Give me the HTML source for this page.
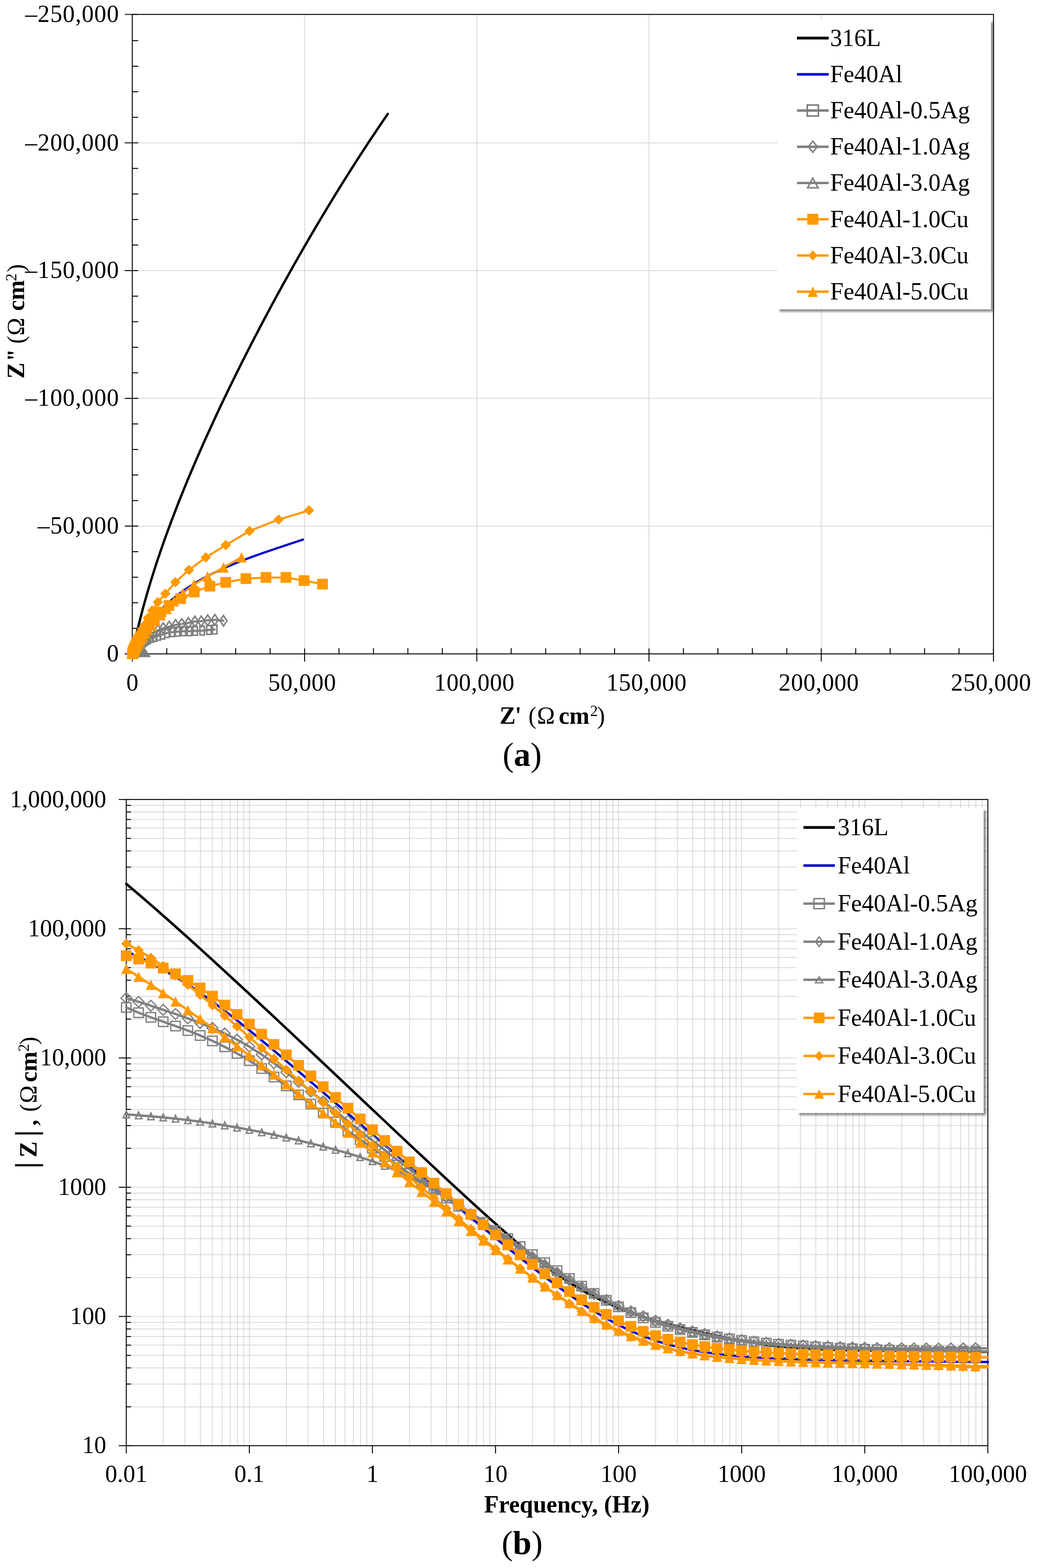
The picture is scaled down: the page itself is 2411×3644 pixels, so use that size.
<!DOCTYPE html>
<html><head><meta charset="utf-8"><style>
html,body{margin:0;padding:0;background:#fff;}
svg{display:block;}
text{font-family:'Liberation Serif','Times New Roman',serif;fill:#000;}
</style></head><body>
<svg width="2411" height="3644" viewBox="0 0 2411 3644">
<defs><filter id="sh" x="-5%" y="-5%" width="115%" height="115%"><feDropShadow dx="5.5" dy="5.5" stdDeviation="2.5" flood-color="#000" flood-opacity="0.45"/></filter></defs>
<rect width="2411" height="3644" fill="#fff"/>
<line x1="708.1" y1="33.5" x2="708.1" y2="1519.6" stroke="#d9d9d9" stroke-width="2"/>
<line x1="307.6" y1="1222.7" x2="2309.8" y2="1222.7" stroke="#d9d9d9" stroke-width="2"/>
<line x1="1108.5" y1="33.5" x2="1108.5" y2="1519.6" stroke="#d9d9d9" stroke-width="2"/>
<line x1="307.6" y1="925.8" x2="2309.8" y2="925.8" stroke="#d9d9d9" stroke-width="2"/>
<line x1="1508.9" y1="33.5" x2="1508.9" y2="1519.6" stroke="#d9d9d9" stroke-width="2"/>
<line x1="307.6" y1="628.9" x2="2309.8" y2="628.9" stroke="#d9d9d9" stroke-width="2"/>
<line x1="1909.4" y1="33.5" x2="1909.4" y2="1519.6" stroke="#d9d9d9" stroke-width="2"/>
<line x1="307.6" y1="332.0" x2="2309.8" y2="332.0" stroke="#d9d9d9" stroke-width="2"/>
<rect x="307.6" y="33.5" width="2002.2" height="1486.1" fill="none" stroke="#000" stroke-width="2.2"/>
<line x1="289.9" y1="1519.6" x2="321.3" y2="1519.6" stroke="#000" stroke-width="2.2"/>
<line x1="307.6" y1="1460.2" x2="321.3" y2="1460.2" stroke="#000" stroke-width="2.2"/>
<line x1="307.6" y1="1400.8" x2="321.3" y2="1400.8" stroke="#000" stroke-width="2.2"/>
<line x1="307.6" y1="1341.5" x2="321.3" y2="1341.5" stroke="#000" stroke-width="2.2"/>
<line x1="307.6" y1="1282.1" x2="321.3" y2="1282.1" stroke="#000" stroke-width="2.2"/>
<line x1="289.9" y1="1222.7" x2="321.3" y2="1222.7" stroke="#000" stroke-width="2.2"/>
<line x1="307.6" y1="1163.3" x2="321.3" y2="1163.3" stroke="#000" stroke-width="2.2"/>
<line x1="307.6" y1="1103.9" x2="321.3" y2="1103.9" stroke="#000" stroke-width="2.2"/>
<line x1="307.6" y1="1044.6" x2="321.3" y2="1044.6" stroke="#000" stroke-width="2.2"/>
<line x1="307.6" y1="985.2" x2="321.3" y2="985.2" stroke="#000" stroke-width="2.2"/>
<line x1="289.9" y1="925.8" x2="321.3" y2="925.8" stroke="#000" stroke-width="2.2"/>
<line x1="307.6" y1="866.4" x2="321.3" y2="866.4" stroke="#000" stroke-width="2.2"/>
<line x1="307.6" y1="807.0" x2="321.3" y2="807.0" stroke="#000" stroke-width="2.2"/>
<line x1="307.6" y1="747.7" x2="321.3" y2="747.7" stroke="#000" stroke-width="2.2"/>
<line x1="307.6" y1="688.3" x2="321.3" y2="688.3" stroke="#000" stroke-width="2.2"/>
<line x1="289.9" y1="628.9" x2="321.3" y2="628.9" stroke="#000" stroke-width="2.2"/>
<line x1="307.6" y1="569.5" x2="321.3" y2="569.5" stroke="#000" stroke-width="2.2"/>
<line x1="307.6" y1="510.1" x2="321.3" y2="510.1" stroke="#000" stroke-width="2.2"/>
<line x1="307.6" y1="450.8" x2="321.3" y2="450.8" stroke="#000" stroke-width="2.2"/>
<line x1="307.6" y1="391.4" x2="321.3" y2="391.4" stroke="#000" stroke-width="2.2"/>
<line x1="289.9" y1="332.0" x2="321.3" y2="332.0" stroke="#000" stroke-width="2.2"/>
<line x1="307.6" y1="272.6" x2="321.3" y2="272.6" stroke="#000" stroke-width="2.2"/>
<line x1="307.6" y1="213.2" x2="321.3" y2="213.2" stroke="#000" stroke-width="2.2"/>
<line x1="307.6" y1="153.9" x2="321.3" y2="153.9" stroke="#000" stroke-width="2.2"/>
<line x1="307.6" y1="94.5" x2="321.3" y2="94.5" stroke="#000" stroke-width="2.2"/>
<line x1="289.9" y1="33.5" x2="321.3" y2="33.5" stroke="#000" stroke-width="2.2"/>
<line x1="307.6" y1="1506.8" x2="307.6" y2="1537.4" stroke="#000" stroke-width="2.2"/>
<line x1="387.7" y1="1506.3" x2="387.7" y2="1519.6" stroke="#000" stroke-width="2.2"/>
<line x1="467.8" y1="1506.3" x2="467.8" y2="1519.6" stroke="#000" stroke-width="2.2"/>
<line x1="547.9" y1="1506.3" x2="547.9" y2="1519.6" stroke="#000" stroke-width="2.2"/>
<line x1="628.0" y1="1506.3" x2="628.0" y2="1519.6" stroke="#000" stroke-width="2.2"/>
<line x1="708.1" y1="1506.8" x2="708.1" y2="1537.4" stroke="#000" stroke-width="2.2"/>
<line x1="788.2" y1="1506.3" x2="788.2" y2="1519.6" stroke="#000" stroke-width="2.2"/>
<line x1="868.3" y1="1506.3" x2="868.3" y2="1519.6" stroke="#000" stroke-width="2.2"/>
<line x1="948.3" y1="1506.3" x2="948.3" y2="1519.6" stroke="#000" stroke-width="2.2"/>
<line x1="1028.4" y1="1506.3" x2="1028.4" y2="1519.6" stroke="#000" stroke-width="2.2"/>
<line x1="1108.5" y1="1506.8" x2="1108.5" y2="1537.4" stroke="#000" stroke-width="2.2"/>
<line x1="1188.6" y1="1506.3" x2="1188.6" y2="1519.6" stroke="#000" stroke-width="2.2"/>
<line x1="1268.7" y1="1506.3" x2="1268.7" y2="1519.6" stroke="#000" stroke-width="2.2"/>
<line x1="1348.8" y1="1506.3" x2="1348.8" y2="1519.6" stroke="#000" stroke-width="2.2"/>
<line x1="1428.9" y1="1506.3" x2="1428.9" y2="1519.6" stroke="#000" stroke-width="2.2"/>
<line x1="1508.9" y1="1506.8" x2="1508.9" y2="1537.4" stroke="#000" stroke-width="2.2"/>
<line x1="1589.0" y1="1506.3" x2="1589.0" y2="1519.6" stroke="#000" stroke-width="2.2"/>
<line x1="1669.1" y1="1506.3" x2="1669.1" y2="1519.6" stroke="#000" stroke-width="2.2"/>
<line x1="1749.2" y1="1506.3" x2="1749.2" y2="1519.6" stroke="#000" stroke-width="2.2"/>
<line x1="1829.3" y1="1506.3" x2="1829.3" y2="1519.6" stroke="#000" stroke-width="2.2"/>
<line x1="1909.4" y1="1506.8" x2="1909.4" y2="1537.4" stroke="#000" stroke-width="2.2"/>
<line x1="1989.5" y1="1506.3" x2="1989.5" y2="1519.6" stroke="#000" stroke-width="2.2"/>
<line x1="2069.5" y1="1506.3" x2="2069.5" y2="1519.6" stroke="#000" stroke-width="2.2"/>
<line x1="2149.6" y1="1506.3" x2="2149.6" y2="1519.6" stroke="#000" stroke-width="2.2"/>
<line x1="2229.7" y1="1506.3" x2="2229.7" y2="1519.6" stroke="#000" stroke-width="2.2"/>
<line x1="2309.8" y1="1506.8" x2="2309.8" y2="1537.4" stroke="#000" stroke-width="2.2"/>
<text x="277.3" y="1537.1" font-size="56" text-anchor="end" font-weight="normal" letter-spacing="1.1">0</text>
<text x="277.3" y="1240.2" font-size="56" text-anchor="end" font-weight="normal" letter-spacing="1.1">–50,000</text>
<text x="277.3" y="943.3" font-size="56" text-anchor="end" font-weight="normal" letter-spacing="1.1">–100,000</text>
<text x="277.3" y="646.4" font-size="56" text-anchor="end" font-weight="normal" letter-spacing="1.1">–150,000</text>
<text x="277.3" y="349.5" font-size="56" text-anchor="end" font-weight="normal" letter-spacing="1.1">–200,000</text>
<text x="277.3" y="51.0" font-size="56" text-anchor="end" font-weight="normal" letter-spacing="1.1">–250,000</text>
<text x="308.0" y="1605.0" font-size="56" text-anchor="middle" font-weight="normal" letter-spacing="0.7">0</text>
<text x="702.5" y="1605.0" font-size="56" text-anchor="middle" font-weight="normal" letter-spacing="0.7">50,000</text>
<text x="1102.9" y="1605.0" font-size="56" text-anchor="middle" font-weight="normal" letter-spacing="0.7">100,000</text>
<text x="1503.3" y="1605.0" font-size="56" text-anchor="middle" font-weight="normal" letter-spacing="0.7">150,000</text>
<text x="1903.8" y="1605.0" font-size="56" text-anchor="middle" font-weight="normal" letter-spacing="0.7">200,000</text>
<text x="2304.2" y="1605.0" font-size="56" text-anchor="middle" font-weight="normal" letter-spacing="0.7">250,000</text>
<text y="1681.5" font-size="56"><tspan x="1161.5" font-weight="bold">Z</tspan><tspan x="1197" font-weight="bold">'</tspan><tspan x="1228.5">(</tspan><tspan x="1248.5">Ω</tspan><tspan x="1299" font-weight="bold">cm</tspan><tspan x="1372" font-size="36" dy="-18">2</tspan><tspan x="1388" dy="18">)</tspan></text>
<text transform="translate(56.2,0) rotate(-90)" font-size="56"><tspan x="-880" font-weight="bold">Z</tspan><tspan x="-838.5" font-weight="bold" letter-spacing="-5">''</tspan><tspan x="-799">(</tspan><tspan x="-780">Ω</tspan><tspan x="-722.5" font-weight="bold">cm</tspan><tspan x="-653.6" font-size="36" dy="-18">2</tspan><tspan x="-632.6" dy="18">)</tspan></text>
<text x="1214" y="1779.7" font-size="78" text-anchor="middle">(<tspan font-weight="bold">a</tspan>)</text>
<line x1="379.7" y1="1858.0" x2="379.7" y2="3359.8" stroke="#d9d9d9" stroke-width="2"/>
<line x1="430.1" y1="1858.0" x2="430.1" y2="3359.8" stroke="#d9d9d9" stroke-width="2"/>
<line x1="465.9" y1="1858.0" x2="465.9" y2="3359.8" stroke="#d9d9d9" stroke-width="2"/>
<line x1="493.6" y1="1858.0" x2="493.6" y2="3359.8" stroke="#d9d9d9" stroke-width="2"/>
<line x1="516.3" y1="1858.0" x2="516.3" y2="3359.8" stroke="#d9d9d9" stroke-width="2"/>
<line x1="535.4" y1="1858.0" x2="535.4" y2="3359.8" stroke="#d9d9d9" stroke-width="2"/>
<line x1="552.0" y1="1858.0" x2="552.0" y2="3359.8" stroke="#d9d9d9" stroke-width="2"/>
<line x1="566.7" y1="1858.0" x2="566.7" y2="3359.8" stroke="#d9d9d9" stroke-width="2"/>
<line x1="579.8" y1="1858.0" x2="579.8" y2="3359.8" stroke="#d9d9d9" stroke-width="2"/>
<line x1="665.9" y1="1858.0" x2="665.9" y2="3359.8" stroke="#d9d9d9" stroke-width="2"/>
<line x1="716.3" y1="1858.0" x2="716.3" y2="3359.8" stroke="#d9d9d9" stroke-width="2"/>
<line x1="752.0" y1="1858.0" x2="752.0" y2="3359.8" stroke="#d9d9d9" stroke-width="2"/>
<line x1="779.8" y1="1858.0" x2="779.8" y2="3359.8" stroke="#d9d9d9" stroke-width="2"/>
<line x1="802.4" y1="1858.0" x2="802.4" y2="3359.8" stroke="#d9d9d9" stroke-width="2"/>
<line x1="821.6" y1="1858.0" x2="821.6" y2="3359.8" stroke="#d9d9d9" stroke-width="2"/>
<line x1="838.2" y1="1858.0" x2="838.2" y2="3359.8" stroke="#d9d9d9" stroke-width="2"/>
<line x1="852.8" y1="1858.0" x2="852.8" y2="3359.8" stroke="#d9d9d9" stroke-width="2"/>
<line x1="865.9" y1="1858.0" x2="865.9" y2="3359.8" stroke="#d9d9d9" stroke-width="2"/>
<line x1="952.1" y1="1858.0" x2="952.1" y2="3359.8" stroke="#d9d9d9" stroke-width="2"/>
<line x1="1002.4" y1="1858.0" x2="1002.4" y2="3359.8" stroke="#d9d9d9" stroke-width="2"/>
<line x1="1038.2" y1="1858.0" x2="1038.2" y2="3359.8" stroke="#d9d9d9" stroke-width="2"/>
<line x1="1065.9" y1="1858.0" x2="1065.9" y2="3359.8" stroke="#d9d9d9" stroke-width="2"/>
<line x1="1088.6" y1="1858.0" x2="1088.6" y2="3359.8" stroke="#d9d9d9" stroke-width="2"/>
<line x1="1107.7" y1="1858.0" x2="1107.7" y2="3359.8" stroke="#d9d9d9" stroke-width="2"/>
<line x1="1124.3" y1="1858.0" x2="1124.3" y2="3359.8" stroke="#d9d9d9" stroke-width="2"/>
<line x1="1139.0" y1="1858.0" x2="1139.0" y2="3359.8" stroke="#d9d9d9" stroke-width="2"/>
<line x1="1152.1" y1="1858.0" x2="1152.1" y2="3359.8" stroke="#d9d9d9" stroke-width="2"/>
<line x1="1238.2" y1="1858.0" x2="1238.2" y2="3359.8" stroke="#d9d9d9" stroke-width="2"/>
<line x1="1288.6" y1="1858.0" x2="1288.6" y2="3359.8" stroke="#d9d9d9" stroke-width="2"/>
<line x1="1324.4" y1="1858.0" x2="1324.4" y2="3359.8" stroke="#d9d9d9" stroke-width="2"/>
<line x1="1352.1" y1="1858.0" x2="1352.1" y2="3359.8" stroke="#d9d9d9" stroke-width="2"/>
<line x1="1374.7" y1="1858.0" x2="1374.7" y2="3359.8" stroke="#d9d9d9" stroke-width="2"/>
<line x1="1393.9" y1="1858.0" x2="1393.9" y2="3359.8" stroke="#d9d9d9" stroke-width="2"/>
<line x1="1410.5" y1="1858.0" x2="1410.5" y2="3359.8" stroke="#d9d9d9" stroke-width="2"/>
<line x1="1425.1" y1="1858.0" x2="1425.1" y2="3359.8" stroke="#d9d9d9" stroke-width="2"/>
<line x1="1438.2" y1="1858.0" x2="1438.2" y2="3359.8" stroke="#d9d9d9" stroke-width="2"/>
<line x1="1524.4" y1="1858.0" x2="1524.4" y2="3359.8" stroke="#d9d9d9" stroke-width="2"/>
<line x1="1574.8" y1="1858.0" x2="1574.8" y2="3359.8" stroke="#d9d9d9" stroke-width="2"/>
<line x1="1610.5" y1="1858.0" x2="1610.5" y2="3359.8" stroke="#d9d9d9" stroke-width="2"/>
<line x1="1638.2" y1="1858.0" x2="1638.2" y2="3359.8" stroke="#d9d9d9" stroke-width="2"/>
<line x1="1660.9" y1="1858.0" x2="1660.9" y2="3359.8" stroke="#d9d9d9" stroke-width="2"/>
<line x1="1680.1" y1="1858.0" x2="1680.1" y2="3359.8" stroke="#d9d9d9" stroke-width="2"/>
<line x1="1696.7" y1="1858.0" x2="1696.7" y2="3359.8" stroke="#d9d9d9" stroke-width="2"/>
<line x1="1711.3" y1="1858.0" x2="1711.3" y2="3359.8" stroke="#d9d9d9" stroke-width="2"/>
<line x1="1724.4" y1="1858.0" x2="1724.4" y2="3359.8" stroke="#d9d9d9" stroke-width="2"/>
<line x1="1810.5" y1="1858.0" x2="1810.5" y2="3359.8" stroke="#d9d9d9" stroke-width="2"/>
<line x1="1860.9" y1="1858.0" x2="1860.9" y2="3359.8" stroke="#d9d9d9" stroke-width="2"/>
<line x1="1896.7" y1="1858.0" x2="1896.7" y2="3359.8" stroke="#d9d9d9" stroke-width="2"/>
<line x1="1924.4" y1="1858.0" x2="1924.4" y2="3359.8" stroke="#d9d9d9" stroke-width="2"/>
<line x1="1947.1" y1="1858.0" x2="1947.1" y2="3359.8" stroke="#d9d9d9" stroke-width="2"/>
<line x1="1966.2" y1="1858.0" x2="1966.2" y2="3359.8" stroke="#d9d9d9" stroke-width="2"/>
<line x1="1982.8" y1="1858.0" x2="1982.8" y2="3359.8" stroke="#d9d9d9" stroke-width="2"/>
<line x1="1997.4" y1="1858.0" x2="1997.4" y2="3359.8" stroke="#d9d9d9" stroke-width="2"/>
<line x1="2010.5" y1="1858.0" x2="2010.5" y2="3359.8" stroke="#d9d9d9" stroke-width="2"/>
<line x1="2096.7" y1="1858.0" x2="2096.7" y2="3359.8" stroke="#d9d9d9" stroke-width="2"/>
<line x1="2147.1" y1="1858.0" x2="2147.1" y2="3359.8" stroke="#d9d9d9" stroke-width="2"/>
<line x1="2182.8" y1="1858.0" x2="2182.8" y2="3359.8" stroke="#d9d9d9" stroke-width="2"/>
<line x1="2210.6" y1="1858.0" x2="2210.6" y2="3359.8" stroke="#d9d9d9" stroke-width="2"/>
<line x1="2233.2" y1="1858.0" x2="2233.2" y2="3359.8" stroke="#d9d9d9" stroke-width="2"/>
<line x1="2252.4" y1="1858.0" x2="2252.4" y2="3359.8" stroke="#d9d9d9" stroke-width="2"/>
<line x1="2269.0" y1="1858.0" x2="2269.0" y2="3359.8" stroke="#d9d9d9" stroke-width="2"/>
<line x1="2283.6" y1="1858.0" x2="2283.6" y2="3359.8" stroke="#d9d9d9" stroke-width="2"/>
<line x1="293.6" y1="3269.4" x2="2296.7" y2="3269.4" stroke="#d9d9d9" stroke-width="2"/>
<line x1="293.6" y1="3216.5" x2="2296.7" y2="3216.5" stroke="#d9d9d9" stroke-width="2"/>
<line x1="293.6" y1="3179.0" x2="2296.7" y2="3179.0" stroke="#d9d9d9" stroke-width="2"/>
<line x1="293.6" y1="3149.9" x2="2296.7" y2="3149.9" stroke="#d9d9d9" stroke-width="2"/>
<line x1="293.6" y1="3126.1" x2="2296.7" y2="3126.1" stroke="#d9d9d9" stroke-width="2"/>
<line x1="293.6" y1="3106.0" x2="2296.7" y2="3106.0" stroke="#d9d9d9" stroke-width="2"/>
<line x1="293.6" y1="3088.5" x2="2296.7" y2="3088.5" stroke="#d9d9d9" stroke-width="2"/>
<line x1="293.6" y1="3073.2" x2="2296.7" y2="3073.2" stroke="#d9d9d9" stroke-width="2"/>
<line x1="293.6" y1="3059.4" x2="2296.7" y2="3059.4" stroke="#d9d9d9" stroke-width="2"/>
<line x1="293.6" y1="2969.0" x2="2296.7" y2="2969.0" stroke="#d9d9d9" stroke-width="2"/>
<line x1="293.6" y1="2916.1" x2="2296.7" y2="2916.1" stroke="#d9d9d9" stroke-width="2"/>
<line x1="293.6" y1="2878.6" x2="2296.7" y2="2878.6" stroke="#d9d9d9" stroke-width="2"/>
<line x1="293.6" y1="2849.5" x2="2296.7" y2="2849.5" stroke="#d9d9d9" stroke-width="2"/>
<line x1="293.6" y1="2825.7" x2="2296.7" y2="2825.7" stroke="#d9d9d9" stroke-width="2"/>
<line x1="293.6" y1="2805.6" x2="2296.7" y2="2805.6" stroke="#d9d9d9" stroke-width="2"/>
<line x1="293.6" y1="2788.2" x2="2296.7" y2="2788.2" stroke="#d9d9d9" stroke-width="2"/>
<line x1="293.6" y1="2772.8" x2="2296.7" y2="2772.8" stroke="#d9d9d9" stroke-width="2"/>
<line x1="293.6" y1="2759.1" x2="2296.7" y2="2759.1" stroke="#d9d9d9" stroke-width="2"/>
<line x1="293.6" y1="2668.7" x2="2296.7" y2="2668.7" stroke="#d9d9d9" stroke-width="2"/>
<line x1="293.6" y1="2615.8" x2="2296.7" y2="2615.8" stroke="#d9d9d9" stroke-width="2"/>
<line x1="293.6" y1="2578.2" x2="2296.7" y2="2578.2" stroke="#d9d9d9" stroke-width="2"/>
<line x1="293.6" y1="2549.1" x2="2296.7" y2="2549.1" stroke="#d9d9d9" stroke-width="2"/>
<line x1="293.6" y1="2525.4" x2="2296.7" y2="2525.4" stroke="#d9d9d9" stroke-width="2"/>
<line x1="293.6" y1="2505.2" x2="2296.7" y2="2505.2" stroke="#d9d9d9" stroke-width="2"/>
<line x1="293.6" y1="2487.8" x2="2296.7" y2="2487.8" stroke="#d9d9d9" stroke-width="2"/>
<line x1="293.6" y1="2472.5" x2="2296.7" y2="2472.5" stroke="#d9d9d9" stroke-width="2"/>
<line x1="293.6" y1="2458.7" x2="2296.7" y2="2458.7" stroke="#d9d9d9" stroke-width="2"/>
<line x1="293.6" y1="2368.3" x2="2296.7" y2="2368.3" stroke="#d9d9d9" stroke-width="2"/>
<line x1="293.6" y1="2315.4" x2="2296.7" y2="2315.4" stroke="#d9d9d9" stroke-width="2"/>
<line x1="293.6" y1="2277.9" x2="2296.7" y2="2277.9" stroke="#d9d9d9" stroke-width="2"/>
<line x1="293.6" y1="2248.8" x2="2296.7" y2="2248.8" stroke="#d9d9d9" stroke-width="2"/>
<line x1="293.6" y1="2225.0" x2="2296.7" y2="2225.0" stroke="#d9d9d9" stroke-width="2"/>
<line x1="293.6" y1="2204.9" x2="2296.7" y2="2204.9" stroke="#d9d9d9" stroke-width="2"/>
<line x1="293.6" y1="2187.5" x2="2296.7" y2="2187.5" stroke="#d9d9d9" stroke-width="2"/>
<line x1="293.6" y1="2172.1" x2="2296.7" y2="2172.1" stroke="#d9d9d9" stroke-width="2"/>
<line x1="293.6" y1="2158.4" x2="2296.7" y2="2158.4" stroke="#d9d9d9" stroke-width="2"/>
<line x1="293.6" y1="2067.9" x2="2296.7" y2="2067.9" stroke="#d9d9d9" stroke-width="2"/>
<line x1="293.6" y1="2015.1" x2="2296.7" y2="2015.1" stroke="#d9d9d9" stroke-width="2"/>
<line x1="293.6" y1="1977.5" x2="2296.7" y2="1977.5" stroke="#d9d9d9" stroke-width="2"/>
<line x1="293.6" y1="1948.4" x2="2296.7" y2="1948.4" stroke="#d9d9d9" stroke-width="2"/>
<line x1="293.6" y1="1924.6" x2="2296.7" y2="1924.6" stroke="#d9d9d9" stroke-width="2"/>
<line x1="293.6" y1="1904.5" x2="2296.7" y2="1904.5" stroke="#d9d9d9" stroke-width="2"/>
<line x1="293.6" y1="1887.1" x2="2296.7" y2="1887.1" stroke="#d9d9d9" stroke-width="2"/>
<line x1="293.6" y1="1871.7" x2="2296.7" y2="1871.7" stroke="#d9d9d9" stroke-width="2"/>
<rect x="293.6" y="1858.0" width="2003.1" height="1501.8" fill="none" stroke="#000" stroke-width="2.2"/>
<line x1="276.1" y1="3359.8" x2="304.5" y2="3359.8" stroke="#000" stroke-width="2.2"/>
<line x1="293.6" y1="3269.4" x2="304.5" y2="3269.4" stroke="#000" stroke-width="2.2"/>
<line x1="293.6" y1="3216.5" x2="304.5" y2="3216.5" stroke="#000" stroke-width="2.2"/>
<line x1="293.6" y1="3179.0" x2="304.5" y2="3179.0" stroke="#000" stroke-width="2.2"/>
<line x1="293.6" y1="3149.9" x2="304.5" y2="3149.9" stroke="#000" stroke-width="2.2"/>
<line x1="293.6" y1="3126.1" x2="304.5" y2="3126.1" stroke="#000" stroke-width="2.2"/>
<line x1="293.6" y1="3106.0" x2="304.5" y2="3106.0" stroke="#000" stroke-width="2.2"/>
<line x1="293.6" y1="3088.5" x2="304.5" y2="3088.5" stroke="#000" stroke-width="2.2"/>
<line x1="293.6" y1="3073.2" x2="304.5" y2="3073.2" stroke="#000" stroke-width="2.2"/>
<line x1="276.1" y1="3059.4" x2="304.5" y2="3059.4" stroke="#000" stroke-width="2.2"/>
<line x1="293.6" y1="2969.0" x2="304.5" y2="2969.0" stroke="#000" stroke-width="2.2"/>
<line x1="293.6" y1="2916.1" x2="304.5" y2="2916.1" stroke="#000" stroke-width="2.2"/>
<line x1="293.6" y1="2878.6" x2="304.5" y2="2878.6" stroke="#000" stroke-width="2.2"/>
<line x1="293.6" y1="2849.5" x2="304.5" y2="2849.5" stroke="#000" stroke-width="2.2"/>
<line x1="293.6" y1="2825.7" x2="304.5" y2="2825.7" stroke="#000" stroke-width="2.2"/>
<line x1="293.6" y1="2805.6" x2="304.5" y2="2805.6" stroke="#000" stroke-width="2.2"/>
<line x1="293.6" y1="2788.2" x2="304.5" y2="2788.2" stroke="#000" stroke-width="2.2"/>
<line x1="293.6" y1="2772.8" x2="304.5" y2="2772.8" stroke="#000" stroke-width="2.2"/>
<line x1="276.1" y1="2759.1" x2="304.5" y2="2759.1" stroke="#000" stroke-width="2.2"/>
<line x1="293.6" y1="2668.7" x2="304.5" y2="2668.7" stroke="#000" stroke-width="2.2"/>
<line x1="293.6" y1="2615.8" x2="304.5" y2="2615.8" stroke="#000" stroke-width="2.2"/>
<line x1="293.6" y1="2578.2" x2="304.5" y2="2578.2" stroke="#000" stroke-width="2.2"/>
<line x1="293.6" y1="2549.1" x2="304.5" y2="2549.1" stroke="#000" stroke-width="2.2"/>
<line x1="293.6" y1="2525.4" x2="304.5" y2="2525.4" stroke="#000" stroke-width="2.2"/>
<line x1="293.6" y1="2505.2" x2="304.5" y2="2505.2" stroke="#000" stroke-width="2.2"/>
<line x1="293.6" y1="2487.8" x2="304.5" y2="2487.8" stroke="#000" stroke-width="2.2"/>
<line x1="293.6" y1="2472.5" x2="304.5" y2="2472.5" stroke="#000" stroke-width="2.2"/>
<line x1="276.1" y1="2458.7" x2="304.5" y2="2458.7" stroke="#000" stroke-width="2.2"/>
<line x1="293.6" y1="2368.3" x2="304.5" y2="2368.3" stroke="#000" stroke-width="2.2"/>
<line x1="293.6" y1="2315.4" x2="304.5" y2="2315.4" stroke="#000" stroke-width="2.2"/>
<line x1="293.6" y1="2277.9" x2="304.5" y2="2277.9" stroke="#000" stroke-width="2.2"/>
<line x1="293.6" y1="2248.8" x2="304.5" y2="2248.8" stroke="#000" stroke-width="2.2"/>
<line x1="293.6" y1="2225.0" x2="304.5" y2="2225.0" stroke="#000" stroke-width="2.2"/>
<line x1="293.6" y1="2204.9" x2="304.5" y2="2204.9" stroke="#000" stroke-width="2.2"/>
<line x1="293.6" y1="2187.5" x2="304.5" y2="2187.5" stroke="#000" stroke-width="2.2"/>
<line x1="293.6" y1="2172.1" x2="304.5" y2="2172.1" stroke="#000" stroke-width="2.2"/>
<line x1="276.1" y1="2158.4" x2="304.5" y2="2158.4" stroke="#000" stroke-width="2.2"/>
<line x1="293.6" y1="2067.9" x2="304.5" y2="2067.9" stroke="#000" stroke-width="2.2"/>
<line x1="293.6" y1="2015.1" x2="304.5" y2="2015.1" stroke="#000" stroke-width="2.2"/>
<line x1="293.6" y1="1977.5" x2="304.5" y2="1977.5" stroke="#000" stroke-width="2.2"/>
<line x1="293.6" y1="1948.4" x2="304.5" y2="1948.4" stroke="#000" stroke-width="2.2"/>
<line x1="293.6" y1="1924.6" x2="304.5" y2="1924.6" stroke="#000" stroke-width="2.2"/>
<line x1="293.6" y1="1904.5" x2="304.5" y2="1904.5" stroke="#000" stroke-width="2.2"/>
<line x1="293.6" y1="1887.1" x2="304.5" y2="1887.1" stroke="#000" stroke-width="2.2"/>
<line x1="293.6" y1="1871.7" x2="304.5" y2="1871.7" stroke="#000" stroke-width="2.2"/>
<line x1="276.1" y1="1858.0" x2="304.5" y2="1858.0" stroke="#000" stroke-width="2.2"/>
<line x1="293.6" y1="3359.8" x2="293.6" y2="3377.7" stroke="#000" stroke-width="2.2"/>
<line x1="579.8" y1="3359.8" x2="579.8" y2="3377.7" stroke="#000" stroke-width="2.2"/>
<line x1="865.9" y1="3359.8" x2="865.9" y2="3377.7" stroke="#000" stroke-width="2.2"/>
<line x1="1152.1" y1="3359.8" x2="1152.1" y2="3377.7" stroke="#000" stroke-width="2.2"/>
<line x1="1438.2" y1="3359.8" x2="1438.2" y2="3377.7" stroke="#000" stroke-width="2.2"/>
<line x1="1724.4" y1="3359.8" x2="1724.4" y2="3377.7" stroke="#000" stroke-width="2.2"/>
<line x1="2010.5" y1="3359.8" x2="2010.5" y2="3377.7" stroke="#000" stroke-width="2.2"/>
<line x1="2296.7" y1="3359.8" x2="2296.7" y2="3377.7" stroke="#000" stroke-width="2.2"/>
<text x="247.0" y="3377.3" font-size="56" text-anchor="end" font-weight="normal">10</text>
<text x="247.0" y="3076.9" font-size="56" text-anchor="end" font-weight="normal">100</text>
<text x="247.0" y="2776.6" font-size="56" text-anchor="end" font-weight="normal">1000</text>
<text x="247.0" y="2476.2" font-size="56" text-anchor="end" font-weight="normal">10,000</text>
<text x="247.0" y="2175.9" font-size="56" text-anchor="end" font-weight="normal">100,000</text>
<text x="247.0" y="1875.5" font-size="56" text-anchor="end" font-weight="normal">1,000,000</text>
<text x="293.6" y="3443.5" font-size="56" text-anchor="middle" font-weight="normal">0.01</text>
<text x="579.8" y="3443.5" font-size="56" text-anchor="middle" font-weight="normal">0.1</text>
<text x="865.9" y="3443.5" font-size="56" text-anchor="middle" font-weight="normal">1</text>
<text x="1152.1" y="3443.5" font-size="56" text-anchor="middle" font-weight="normal">10</text>
<text x="1438.2" y="3443.5" font-size="56" text-anchor="middle" font-weight="normal">100</text>
<text x="1724.4" y="3443.5" font-size="56" text-anchor="middle" font-weight="normal">1000</text>
<text x="2010.5" y="3443.5" font-size="56" text-anchor="middle" font-weight="normal">10,000</text>
<text x="2296.7" y="3443.5" font-size="56" text-anchor="middle" font-weight="normal">100,000</text>
<text x="1125.4" y="3515" font-size="56" font-weight="bold">Frequency, (Hz)</text>
<text transform="translate(84.7,0) rotate(-90)" font-size="56"><tspan x="-2716" font-size="72" font-weight="bold">|</tspan><tspan x="-2690" font-weight="bold">Z</tspan><tspan x="-2642" font-size="72" font-weight="bold">|</tspan><tspan x="-2616" font-weight="bold">,</tspan><tspan x="-2584">(</tspan><tspan x="-2564">Ω</tspan><tspan x="-2515" font-weight="bold">cm</tspan><tspan x="-2444" font-size="36" dy="-18">2</tspan><tspan x="-2428" dy="18">)</tspan></text>
<text x="1214" y="3611.5" font-size="78" text-anchor="middle">(<tspan font-weight="bold">b</tspan>)</text>
<polyline points="901.5,264.7 898.7,268.9 895.8,273.1 892.9,277.3 890.1,281.5 887.2,285.7 884.4,289.9 881.5,294.1 878.7,298.3 875.9,302.5 873.1,306.7 870.3,310.9 867.5,315.1 864.7,319.3 861.9,323.4 859.1,327.6 856.3,331.8 853.6,336.0 850.8,340.2 848.1,344.4 845.3,348.6 842.6,352.8 839.9,357.0 837.1,361.2 834.4,365.4 831.7,369.6 829.0,373.8 826.3,378.0 823.6,382.2 821.0,386.4 818.3,390.6 815.6,394.8 813.0,399.0 810.3,403.2 807.7,407.4 805.0,411.6 802.4,415.8 799.7,420.0 797.1,424.2 794.5,428.4 791.9,432.6 789.3,436.7 786.7,440.9 784.1,445.1 781.5,449.3 778.9,453.5 776.4,457.7 773.8,461.9 771.2,466.1 768.7,470.3 766.1,474.5 763.6,478.7 761.0,482.9 758.5,487.1 756.0,491.3 753.4,495.5 750.9,499.7 748.4,503.9 745.9,508.1 743.4,512.3 740.9,516.5 738.4,520.7 735.9,524.9 733.4,529.1 731.0,533.3 728.5,537.5 726.0,541.7 723.6,545.9 721.1,550.0 718.7,554.2 716.2,558.4 713.8,562.6 711.4,566.8 708.9,571.0 706.5,575.2 704.1,579.4 701.7,583.6 699.3,587.8 696.9,592.0 694.5,596.2 692.1,600.4 689.7,604.6 687.3,608.8 684.9,613.0 682.6,617.2 680.2,621.4 677.8,625.6 675.5,629.8 673.1,634.0 670.8,638.2 668.5,642.4 666.1,646.6 663.8,650.8 661.5,655.0 659.1,659.2 656.8,663.4 654.5,667.5 652.2,671.7 649.9,675.9 647.6,680.1 645.3,684.3 643.0,688.5 640.7,692.7 638.5,696.9 636.2,701.1 633.9,705.3 631.6,709.5 629.4,713.7 627.1,717.9 624.9,722.1 622.6,726.3 620.4,730.5 618.2,734.7 615.9,738.9 613.7,743.1 611.5,747.3 609.3,751.5 607.1,755.7 604.8,759.9 602.6,764.1 600.4,768.3 598.3,772.5 596.1,776.7 593.9,780.8 591.7,785.0 589.5,789.2 587.4,793.4 585.2,797.6 583.0,801.8 580.9,806.0 578.7,810.2 576.6,814.4 574.4,818.6 572.3,822.8 570.2,827.0 568.1,831.2 565.9,835.4 563.8,839.6 561.7,843.8 559.6,848.0 557.5,852.2 555.4,856.4 553.3,860.6 551.2,864.8 549.1,869.0 547.1,873.2 545.0,877.4 542.9,881.6 540.9,885.8 538.8,890.0 536.8,894.1 534.7,898.3 532.7,902.5 530.6,906.7 528.6,910.9 526.6,915.1 524.6,919.3 522.5,923.5 520.5,927.7 518.5,931.9 516.5,936.1 514.5,940.3 512.5,944.5 510.6,948.7 508.6,952.9 506.6,957.1 504.6,961.3 502.7,965.5 500.7,969.7 498.8,973.9 496.8,978.1 494.9,982.3 493.0,986.5 491.0,990.7 489.1,994.9 487.2,999.1 485.3,1003.3 483.4,1007.4 481.5,1011.6 479.6,1015.8 477.7,1020.0 475.8,1024.2 473.9,1028.4 472.0,1032.6 470.2,1036.8 468.3,1041.0 466.5,1045.2 464.6,1049.4 462.8,1053.6 460.9,1057.8 459.1,1062.0 457.3,1066.2 455.5,1070.4 453.7,1074.6 451.9,1078.8 450.1,1083.0 448.3,1087.2 446.5,1091.4 444.7,1095.6 442.9,1099.8 441.2,1104.0 439.4,1108.2 437.7,1112.4 435.9,1116.6 434.2,1120.7 432.4,1124.9 430.7,1129.1 429.0,1133.3 427.3,1137.5 425.6,1141.7 423.9,1145.9 422.2,1150.1 420.5,1154.3 418.8,1158.5 417.2,1162.7 415.5,1166.9 413.8,1171.1 412.2,1175.3 410.6,1179.5 408.9,1183.7 407.3,1187.9 405.7,1192.1 404.1,1196.3 402.5,1200.5 400.9,1204.7 399.3,1208.9 397.7,1213.1 396.1,1217.3 394.6,1221.5 393.0,1225.7 391.5,1229.9 389.9,1234.1 388.4,1238.2 386.9,1242.4 385.3,1246.6 383.8,1250.8 382.3,1255.0 380.8,1259.2 379.4,1263.4 377.9,1267.6 376.4,1271.8 375.0,1276.0 373.5,1280.2 372.1,1284.4 370.7,1288.6 369.2,1292.8 367.8,1297.0 366.4,1301.2 365.0,1305.4 363.6,1309.6 362.3,1313.8 360.9,1318.0 359.5,1322.2 358.2,1326.4 356.9,1330.6 355.5,1334.8 354.2,1339.0 352.9,1343.2 351.6,1347.4 350.3,1351.5 349.0,1355.7 347.8,1359.9 346.5,1364.1 345.3,1368.3 344.0,1372.5 342.8,1376.7 341.6,1380.9 340.4,1385.1 339.2,1389.3 338.0,1393.5 336.8,1397.7 335.6,1401.9 334.5,1406.1 333.3,1410.3 332.2,1414.5 331.1,1418.7 330.0,1422.9 328.9,1427.1 327.8,1431.3 326.7,1435.5 325.6,1439.7 324.6,1443.9 323.5,1448.1 322.5,1452.3 321.5,1456.5 320.5,1460.7 319.5,1464.8 318.5,1469.0 317.5,1473.2 316.6,1477.4 315.6,1481.6 314.7,1485.8 313.8,1490.0 312.9,1494.2 312.0,1498.4 311.1,1502.6 310.2,1506.8 309.3,1511.0 308.5,1515.2 307.7,1519.4" fill="none" stroke="#000" stroke-width="5.5" stroke-linejoin="round" stroke-linecap="round"/>
<polyline points="704.3,1254.0 699.2,1255.7 694.1,1257.4 689.0,1259.1 684.0,1260.7 679.0,1262.4 674.0,1264.0 669.0,1265.7 664.1,1267.3 659.1,1269.0 654.2,1270.6 649.4,1272.2 644.5,1273.8 639.7,1275.5 634.8,1277.1 630.0,1278.7 625.3,1280.4 620.5,1282.0 615.8,1283.6 611.1,1285.3 606.4,1286.9 601.7,1288.6 597.0,1290.2 592.4,1291.9 587.8,1293.5 583.2,1295.2 578.7,1296.9 574.2,1298.6 569.7,1300.3 565.2,1302.0 560.8,1303.7 556.4,1305.5 552.0,1307.2 547.7,1309.0 543.4,1310.7 539.1,1312.5 534.8,1314.3 530.6,1316.1 526.5,1317.9 522.4,1319.7 518.3,1321.5 514.2,1323.4 510.2,1325.2 506.3,1327.1 502.3,1328.9 498.5,1330.8 494.6,1332.7 490.9,1334.6 487.1,1336.5 483.4,1338.4 479.8,1340.4 476.2,1342.3 472.7,1344.2 469.2,1346.1 465.7,1348.1 462.3,1350.0 459.0,1352.0 455.7,1353.9 452.5,1355.9 449.3,1357.8 446.2,1359.8 443.1,1361.7 440.1,1363.7 437.1,1365.6 434.2,1367.6 431.4,1369.5 428.5,1371.5 425.8,1373.4 423.1,1375.3 420.4,1377.3 417.8,1379.2 415.3,1381.1 412.8,1383.0 410.3,1384.9 408.0,1386.8 405.6,1388.6 403.3,1390.5 401.1,1392.3 398.9,1394.2 396.7,1396.0 394.6,1397.8 392.6,1399.6 390.6,1401.4 388.6,1403.1 386.7,1404.9 384.8,1406.6 383.0,1408.4 381.2,1410.1 379.4,1411.8 377.7,1413.4 376.0,1415.1 374.4,1416.7 372.8,1418.4 371.3,1420.0 369.8,1421.6 368.3,1423.1 366.9,1424.7 365.4,1426.2 364.1,1427.8 362.7,1429.3 361.4,1430.7 360.2,1432.2 358.9,1433.6 357.7,1435.1 356.5,1436.5 355.4,1437.9 354.3,1439.2 353.2,1440.6 352.1,1441.9 351.1,1443.2 350.0,1444.5 349.1,1445.8 348.1,1447.1 347.2,1448.3 346.2,1449.6 345.3,1450.8 344.5,1452.0 343.6,1453.1 342.8,1454.3 342.0,1455.4 341.2,1456.5 340.4,1457.6 339.7,1458.7 339.0,1459.8 338.3,1460.9 337.6,1461.9 336.9,1462.9 336.2,1463.9 335.6,1464.9 335.0,1465.9 334.4,1466.8 333.8,1467.8 333.2,1468.7 332.6,1469.6 332.1,1470.5 331.5,1471.4 331.0,1472.2 330.5,1473.1 330.0,1473.9 329.5,1474.8 329.0,1475.6 328.6,1476.4 328.1,1477.1 327.7,1477.9 327.3,1478.7 326.8,1479.4 326.4,1480.1 326.0,1480.9 325.6,1481.6 325.3,1482.2 324.9,1482.9 324.5,1483.6 324.2,1484.3 323.8,1484.9 323.5,1485.5 323.2,1486.2 322.8,1486.8 322.5,1487.4 322.2,1488.0 321.9,1488.5 321.6,1489.1 321.3,1489.7 321.0,1490.2 320.8,1490.8 320.5,1491.3 320.2,1491.8 320.0,1492.3 319.7,1492.8 319.5,1493.3 319.3,1493.8 319.0,1494.3 318.8,1494.7 318.6,1495.2 318.4,1495.7 318.2,1496.1 317.9,1496.5 317.7,1497.0 317.5,1497.4 317.3,1497.8 317.2,1498.2 317.0,1498.6 316.8,1499.0 316.6,1499.4 316.4,1499.7 316.3,1500.1 316.1,1500.5 315.9,1500.8 315.8,1501.2 315.6,1501.5 315.5,1501.8 315.3,1502.2 315.2,1502.5 315.0,1502.8 314.9,1503.1 314.8,1503.4 314.6,1503.7 314.5,1504.0 314.4,1504.3 314.2,1504.6 314.1,1504.9 314.0,1505.2 313.9,1505.4 313.8,1505.7 313.7,1506.0 313.6,1506.2 313.4,1506.5 313.3,1506.7 313.2,1506.9 313.1,1507.2 313.0,1507.4 312.9,1507.6 312.8,1507.9 312.7,1508.1 312.7,1508.3 312.6,1508.5 312.5,1508.7 312.4,1508.9 312.3,1509.1 312.2,1509.3 312.1,1509.5 312.1,1509.7 312.0,1509.9 311.9,1510.1 311.8,1510.2 311.8,1510.4 311.7,1510.6 311.6,1510.7 311.6,1510.9 311.5,1511.1 311.4,1511.2 311.4,1511.4 311.3,1511.5 311.2,1511.7 311.2,1511.8 311.1,1512.0 311.0,1512.1 311.0,1512.3 310.9,1512.4 310.9,1512.5 310.8,1512.7 310.8,1512.8 310.7,1512.9 310.7,1513.0 310.6,1513.2 310.6,1513.3 310.5,1513.4 310.5,1513.5 310.4,1513.6 310.4,1513.7 310.3,1513.9 310.3,1514.0 310.3,1514.1 310.2,1514.2 310.2,1514.3 310.1,1514.4 310.1,1514.5 310.1,1514.6 310.0,1514.7 310.0,1514.8 309.9,1514.8 309.9,1514.9 309.9,1515.0 309.8,1515.1 309.8,1515.2 309.8,1515.3 309.7,1515.3 309.7,1515.4 309.7,1515.5 309.6,1515.6 309.6,1515.7 309.6,1515.7 309.6,1515.8 309.5,1515.9 309.5,1515.9 309.5,1516.0 309.4,1516.1 309.4,1516.1 309.4,1516.2 309.4,1516.3 309.3,1516.3 309.3,1516.4 309.3,1516.5 309.3,1516.5 309.2,1516.6 309.2,1516.6 309.2,1516.7 309.2,1516.7 309.2,1516.8 309.1,1516.8 309.1,1516.9 309.1,1516.9 309.1,1517.0 309.1,1517.0 309.0,1517.1 309.0,1517.1 309.0,1517.2 309.0,1517.2 309.0,1517.3 308.9,1517.3 308.9,1517.4 308.9,1517.4 308.9,1517.4 308.9,1517.5 308.9,1517.5 308.8,1517.6 308.8,1517.6 308.8,1517.6 308.8,1517.7 308.8,1517.7 308.8,1517.7 308.8,1517.8 308.7,1517.8 308.7,1517.8 308.7,1517.9 308.7,1517.9 308.7,1517.9 308.7,1518.0 308.7,1518.0 308.7,1518.0 308.6,1518.1 308.6,1518.1 308.6,1518.1 308.6,1518.1 308.6,1518.2 308.6,1518.2 308.6,1518.2 308.6,1518.2 308.6,1518.3 308.5,1518.3 308.5,1518.3 308.5,1518.3 308.5,1518.4 308.5,1518.4 308.5,1518.4 308.5,1518.4 308.5,1518.5 308.5,1518.5 308.5,1518.5 308.5,1518.5 308.4,1518.5 308.4,1518.6 308.4,1518.6 308.4,1518.6 308.4,1518.6 308.4,1518.6 308.4,1518.7 308.4,1518.7 308.4,1518.7 308.4,1518.7 308.4,1518.7 308.4,1518.7 308.4,1518.8 308.4,1518.8 308.3,1518.8 308.3,1518.8 308.3,1518.8 308.3,1518.8 308.3,1518.8 308.3,1518.9 308.3,1518.9 308.3,1518.9 308.3,1518.9 308.3,1518.9 308.3,1518.9 308.3,1518.9 308.3,1518.9 308.3,1519.0 308.3,1519.0 308.3,1519.0 308.3,1519.0 308.3,1519.0 308.3,1519.0 308.3,1519.0 308.2,1519.0 308.2,1519.0 308.2,1519.1 308.2,1519.1 308.2,1519.1 308.2,1519.1 308.2,1519.1 308.2,1519.1 308.2,1519.1 308.2,1519.1 308.2,1519.1 308.2,1519.1 308.2,1519.2 308.2,1519.2 308.2,1519.2 308.2,1519.2 308.2,1519.2 308.2,1519.2 308.2,1519.2 308.2,1519.2 308.2,1519.2 308.2,1519.2 308.2,1519.2 308.2,1519.2 308.2,1519.2 308.2,1519.2 308.2,1519.3 308.2,1519.3 308.2,1519.3 308.1,1519.3 308.1,1519.3 308.1,1519.3 308.1,1519.3 308.1,1519.3 308.1,1519.3 308.1,1519.3 308.1,1519.3 308.1,1519.3 308.1,1519.3 308.1,1519.3 308.1,1519.3 308.1,1519.3 308.1,1519.3 308.1,1519.3 308.1,1519.4 308.1,1519.4 308.1,1519.4 308.1,1519.4 308.1,1519.4 308.1,1519.4 308.1,1519.4 308.1,1519.4 308.1,1519.4 308.1,1519.4 308.1,1519.4 308.1,1519.4 308.1,1519.4 308.1,1519.4 308.1,1519.4 308.1,1519.4 308.1,1519.4 308.1,1519.4 308.1,1519.4 308.1,1519.4 308.1,1519.4 308.1,1519.4 308.1,1519.4 308.1,1519.4 308.1,1519.4 308.1,1519.4 308.1,1519.4 308.1,1519.4 308.1,1519.5 308.1,1519.5 308.1,1519.5 308.1,1519.5 308.1,1519.5 308.1,1519.5 308.1,1519.5 308.1,1519.5 308.1,1519.5 308.1,1519.5 308.1,1519.5 308.1,1519.5 308.1,1519.5 308.1,1519.5 308.1,1519.5 308.1,1519.5 308.1,1519.5 308.1,1519.5 308.1,1519.5 308.1,1519.5 308.1,1519.5 308.1,1519.5 308.1,1519.5 308.1,1519.5 308.1,1519.5 308.1,1519.5 308.0,1519.5 308.0,1519.5 308.0,1519.5 308.0,1519.5 308.0,1519.5 308.0,1519.5 308.0,1519.5 308.0,1519.5 308.0,1519.5 308.0,1519.5 308.0,1519.5 308.0,1519.5 308.0,1519.5 308.0,1519.5 308.0,1519.5 308.0,1519.5 308.0,1519.5 308.0,1519.5 308.0,1519.5 308.0,1519.5 308.0,1519.5 308.0,1519.5 308.0,1519.5 308.0,1519.5 308.0,1519.5 308.0,1519.5 308.0,1519.5 308.0,1519.5 308.0,1519.5 308.0,1519.5 308.0,1519.5 308.0,1519.5 308.0,1519.5 308.0,1519.6 308.0,1519.6 308.0,1519.6 308.0,1519.6 308.0,1519.6 308.0,1519.6 308.0,1519.6 308.0,1519.6 308.0,1519.6 308.0,1519.6 308.0,1519.6 308.0,1519.6 308.0,1519.6 308.0,1519.6 308.0,1519.6 308.0,1519.6 308.0,1519.6 308.0,1519.6 308.0,1519.6 308.0,1519.6 308.0,1519.6 308.0,1519.6 308.0,1519.6 308.0,1519.6 308.0,1519.6 308.0,1519.6 308.0,1519.6 308.0,1519.6 308.0,1519.6 308.0,1519.6 308.0,1519.6 308.0,1519.6 308.0,1519.6 308.0,1519.6 308.0,1519.6 308.0,1519.6 308.0,1519.6 308.0,1519.6 308.0,1519.6 308.0,1519.6 308.0,1519.6 308.0,1519.6 308.0,1519.6 308.0,1519.6 308.0,1519.6 308.0,1519.6 308.0,1519.6 308.0,1519.6 308.0,1519.6 308.0,1519.6 308.0,1519.6 308.0,1519.6 308.0,1519.6 308.0,1519.6 308.0,1519.6 308.0,1519.6 308.0,1519.6 308.0,1519.6 308.0,1519.6 308.0,1519.6 308.0,1519.6 308.0,1519.6 308.0,1519.6 308.0,1519.6 308.0,1519.6 308.0,1519.6 308.0,1519.6 308.0,1519.6 308.0,1519.6 308.0,1519.6 308.0,1519.6 308.0,1519.6 308.0,1519.6 308.0,1519.6 308.0,1519.6 308.0,1519.6 308.0,1519.6 308.0,1519.6 308.0,1519.6 308.0,1519.6 308.0,1519.6 308.0,1519.6 308.0,1519.6 308.0,1519.6 308.0,1519.6 308.0,1519.6 308.0,1519.6 308.0,1519.6 308.0,1519.6 308.0,1519.6 308.0,1519.6 308.0,1519.6 308.0,1519.6 308.0,1519.6 308.0,1519.6 308.0,1519.6 308.0,1519.6 308.0,1519.6 308.0,1519.6 308.0,1519.6 308.0,1519.6 308.0,1519.6 308.0,1519.6 308.0,1519.6 308.0,1519.6 308.0,1519.6 308.0,1519.6 308.0,1519.6 308.0,1519.6 308.0,1519.6 308.0,1519.6 308.0,1519.6 308.0,1519.6 308.0,1519.6 308.0,1519.6 308.0,1519.6 308.0,1519.6 308.0,1519.6 308.0,1519.6 308.0,1519.6 308.0,1519.6 308.0,1519.6 308.0,1519.6 308.0,1519.6 308.0,1519.6 308.0,1519.6 308.0,1519.6 308.0,1519.6 308.0,1519.6 308.0,1519.6 308.0,1519.6 308.0,1519.6 308.0,1519.6 308.0,1519.6 308.0,1519.6 308.0,1519.6 308.0,1519.6 308.0,1519.6 308.0,1519.6 308.0,1519.6 308.0,1519.6 308.0,1519.6 308.0,1519.6 308.0,1519.6 308.0,1519.6 308.0,1519.6 308.0,1519.6 308.0,1519.6 308.0,1519.6 308.0,1519.6 308.0,1519.6 308.0,1519.6 308.0,1519.6 308.0,1519.6 308.0,1519.6 308.0,1519.6 308.0,1519.6 308.0,1519.6 308.0,1519.6 308.0,1519.6 308.0,1519.6 308.0,1519.6 308.0,1519.6 308.0,1519.6 308.0,1519.6 308.0,1519.6 308.0,1519.6 308.0,1519.6 308.0,1519.6 308.0,1519.6 308.0,1519.6 308.0,1519.6 308.0,1519.6 308.0,1519.6 308.0,1519.6 308.0,1519.6 308.0,1519.6 308.0,1519.6 308.0,1519.6 308.0,1519.6 308.0,1519.6 308.0,1519.6 308.0,1519.6 308.0,1519.6 308.0,1519.6 308.0,1519.6 308.0,1519.6 308.0,1519.6 308.0,1519.6 308.0,1519.6 308.0,1519.6 308.0,1519.6 308.0,1519.6 308.0,1519.6 308.0,1519.6 308.0,1519.6 308.0,1519.6" fill="none" stroke="#0000CD" stroke-width="5.2" stroke-linejoin="round" stroke-linecap="round"/>
<polyline points="499.2,1463.0 485.8,1464.0 470.0,1465.6 453.7,1466.0 440.3,1467.0 426.5,1467.0 412.6,1468.0 400.6,1469.0 388.2,1471.0 377.7,1474.7 368.0,1477.6 359.3,1480.3 351.6,1482.2 344.5,1485.9 338.4,1489.5 333.2,1493.0 328.8,1496.2 325.2,1499.2 322.2,1502.0 319.7,1504.4 317.7,1506.5 316.0,1508.4 314.7,1510.0 313.6,1511.5 312.6,1512.7 311.9,1513.7 311.2,1514.6 310.7,1515.4 310.3,1516.0 309.9,1516.6 309.6,1517.0 309.4,1517.4 309.2,1517.8 309.0,1518.1 308.9,1518.3 308.7,1518.5 308.6,1518.7 308.6,1518.8 308.5,1518.9 308.4,1519.0 308.4,1519.1 308.3,1519.2 308.3,1519.3 308.3,1519.3 308.2,1519.4 308.2,1519.4 308.2,1519.4 308.2,1519.5 308.2,1519.5 308.1,1519.5 308.1,1519.5 308.1,1519.5 308.1,1519.5 308.1,1519.5 308.1,1519.6 308.1,1519.6 308.1,1519.6 308.1,1519.6 308.1,1519.6 308.1,1519.6 308.1,1519.6 308.1,1519.6 308.1,1519.6 308.1,1519.6 308.1,1519.6 308.1,1519.6 308.1,1519.6 308.1,1519.6 308.1,1519.6 308.1,1519.6 308.1,1519.6" fill="none" stroke="#808080" stroke-width="4.8" stroke-linejoin="round" stroke-linecap="round"/>
<path d="M494.0 1452.8h10.4v20.4h-10.4ZM480.6 1453.8h10.4v20.4h-10.4ZM464.8 1455.4h10.4v20.4h-10.4ZM448.5 1455.8h10.4v20.4h-10.4ZM435.1 1456.8h10.4v20.4h-10.4ZM421.3 1456.8h10.4v20.4h-10.4ZM407.4 1457.8h10.4v20.4h-10.4ZM395.4 1458.8h10.4v20.4h-10.4ZM383.0 1460.8h10.4v20.4h-10.4ZM372.5 1464.5h10.4v20.4h-10.4ZM362.8 1467.4h10.4v20.4h-10.4ZM354.1 1470.1h10.4v20.4h-10.4ZM346.4 1472.0h10.4v20.4h-10.4ZM339.3 1475.7h10.4v20.4h-10.4ZM333.2 1479.3h10.4v20.4h-10.4ZM328.0 1482.8h10.4v20.4h-10.4ZM323.6 1486.0h10.4v20.4h-10.4ZM320.0 1489.0h10.4v20.4h-10.4ZM317.0 1491.8h10.4v20.4h-10.4ZM314.5 1494.2h10.4v20.4h-10.4ZM312.5 1496.3h10.4v20.4h-10.4ZM310.8 1498.2h10.4v20.4h-10.4ZM309.5 1499.8h10.4v20.4h-10.4ZM308.4 1501.3h10.4v20.4h-10.4ZM307.4 1502.5h10.4v20.4h-10.4ZM306.7 1503.5h10.4v20.4h-10.4ZM306.0 1504.4h10.4v20.4h-10.4ZM305.5 1505.2h10.4v20.4h-10.4ZM305.1 1505.8h10.4v20.4h-10.4ZM304.7 1506.4h10.4v20.4h-10.4ZM304.4 1506.8h10.4v20.4h-10.4ZM304.2 1507.2h10.4v20.4h-10.4ZM304.0 1507.6h10.4v20.4h-10.4ZM303.8 1507.9h10.4v20.4h-10.4ZM303.7 1508.1h10.4v20.4h-10.4ZM303.5 1508.3h10.4v20.4h-10.4ZM303.4 1508.5h10.4v20.4h-10.4ZM303.4 1508.6h10.4v20.4h-10.4ZM303.3 1508.7h10.4v20.4h-10.4ZM303.2 1508.8h10.4v20.4h-10.4ZM303.2 1508.9h10.4v20.4h-10.4ZM303.1 1509.0h10.4v20.4h-10.4ZM303.1 1509.1h10.4v20.4h-10.4ZM303.1 1509.1h10.4v20.4h-10.4ZM303.0 1509.2h10.4v20.4h-10.4ZM303.0 1509.2h10.4v20.4h-10.4ZM303.0 1509.2h10.4v20.4h-10.4ZM303.0 1509.3h10.4v20.4h-10.4ZM303.0 1509.3h10.4v20.4h-10.4ZM302.9 1509.3h10.4v20.4h-10.4ZM302.9 1509.3h10.4v20.4h-10.4ZM302.9 1509.3h10.4v20.4h-10.4ZM302.9 1509.3h10.4v20.4h-10.4ZM302.9 1509.3h10.4v20.4h-10.4ZM302.9 1509.4h10.4v20.4h-10.4ZM302.9 1509.4h10.4v20.4h-10.4ZM302.9 1509.4h10.4v20.4h-10.4ZM302.9 1509.4h10.4v20.4h-10.4ZM302.9 1509.4h10.4v20.4h-10.4ZM302.9 1509.4h10.4v20.4h-10.4ZM302.9 1509.4h10.4v20.4h-10.4ZM302.9 1509.4h10.4v20.4h-10.4ZM302.9 1509.4h10.4v20.4h-10.4ZM302.9 1509.4h10.4v20.4h-10.4ZM302.9 1509.4h10.4v20.4h-10.4ZM302.9 1509.4h10.4v20.4h-10.4ZM302.9 1509.4h10.4v20.4h-10.4ZM302.9 1509.4h10.4v20.4h-10.4ZM302.9 1509.4h10.4v20.4h-10.4ZM302.9 1509.4h10.4v20.4h-10.4Z" fill="none" stroke="#808080" stroke-width="3.6"/>
<polyline points="519.6,1442.6 499.5,1440.3 482.8,1441.5 467.8,1443.7 453.0,1444.3 438.0,1447.7 422.6,1450.0 408.2,1452.3 393.3,1456.3 379.5,1459.9 367.0,1464.4 356.6,1469.6 346.6,1475.3 338.5,1481.0 332.2,1486.4 327.4,1491.4 323.7,1495.7 320.8,1499.5 318.6,1502.7 316.8,1505.3 315.4,1507.6 314.2,1509.5 313.3,1511.1 312.5,1512.5 311.8,1513.6 311.3,1514.5 310.8,1515.3 310.4,1516.0 310.1,1516.5 309.8,1517.0 309.6,1517.4 309.3,1517.7 309.2,1518.0 309.0,1518.3 308.9,1518.5 308.8,1518.6 308.7,1518.8 308.6,1518.9 308.5,1519.0 308.5,1519.1 308.4,1519.2 308.4,1519.2 308.3,1519.3 308.3,1519.3 308.3,1519.4 308.2,1519.4 308.2,1519.4 308.2,1519.5 308.2,1519.5 308.2,1519.5 308.2,1519.5 308.2,1519.5 308.1,1519.5 308.1,1519.5 308.1,1519.6 308.1,1519.6 308.1,1519.6 308.1,1519.6 308.1,1519.6 308.1,1519.6 308.1,1519.6 308.1,1519.6 308.1,1519.6 308.1,1519.6 308.1,1519.6 308.1,1519.6 308.1,1519.6 308.1,1519.6 308.1,1519.6 308.1,1519.6 308.1,1519.6" fill="none" stroke="#808080" stroke-width="4.8" stroke-linejoin="round" stroke-linecap="round"/>
<path d="M519.6 1430.4L527.8 1442.6L519.6 1454.9L511.3 1442.6ZM499.5 1428.1L507.7 1440.3L499.5 1452.6L491.2 1440.3ZM482.8 1429.2L491.0 1441.5L482.8 1453.7L474.5 1441.5ZM467.8 1431.5L476.1 1443.7L467.8 1456.0L459.6 1443.7ZM453.0 1432.1L461.3 1444.3L453.0 1456.6L444.8 1444.3ZM438.0 1435.4L446.3 1447.7L438.0 1459.9L429.8 1447.7ZM422.6 1437.8L430.8 1450.0L422.6 1462.3L414.3 1450.0ZM408.2 1440.1L416.4 1452.3L408.2 1464.6L399.9 1452.3ZM393.3 1444.1L401.5 1456.3L393.3 1468.6L385.0 1456.3ZM379.5 1447.7L387.7 1459.9L379.5 1472.2L371.2 1459.9ZM367.0 1452.2L375.2 1464.4L367.0 1476.7L358.7 1464.4ZM356.6 1457.4L364.8 1469.6L356.6 1481.9L348.3 1469.6ZM346.6 1463.0L354.9 1475.3L346.6 1487.5L338.4 1475.3ZM338.5 1468.7L346.8 1481.0L338.5 1493.2L330.3 1481.0ZM332.2 1474.2L340.5 1486.4L332.2 1498.7L324.0 1486.4ZM327.4 1479.1L335.6 1491.4L327.4 1503.6L319.1 1491.4ZM323.7 1483.5L331.9 1495.7L323.7 1508.0L315.4 1495.7ZM320.8 1487.2L329.0 1499.5L320.8 1511.7L312.5 1499.5ZM318.6 1490.4L326.8 1502.7L318.6 1514.9L310.3 1502.7ZM316.8 1493.1L325.0 1505.3L316.8 1517.6L308.5 1505.3ZM315.4 1495.4L323.6 1507.6L315.4 1519.9L307.1 1507.6ZM314.2 1497.3L322.5 1509.5L314.2 1521.8L306.0 1509.5ZM313.3 1498.9L321.5 1511.1L313.3 1523.4L305.0 1511.1ZM312.5 1500.2L320.7 1512.5L312.5 1524.7L304.2 1512.5ZM311.8 1501.3L320.1 1513.6L311.8 1525.8L303.6 1513.6ZM311.3 1502.3L319.5 1514.5L311.3 1526.8L303.0 1514.5ZM310.8 1503.1L319.1 1515.3L310.8 1527.6L302.6 1515.3ZM310.4 1503.7L318.7 1516.0L310.4 1528.2L302.2 1516.0ZM310.1 1504.3L318.3 1516.5L310.1 1528.8L301.8 1516.5ZM309.8 1504.8L318.0 1517.0L309.8 1529.3L301.5 1517.0ZM309.6 1505.2L317.8 1517.4L309.6 1529.7L301.3 1517.4ZM309.3 1505.5L317.6 1517.7L309.3 1530.0L301.1 1517.7ZM309.2 1505.8L317.4 1518.0L309.2 1530.3L300.9 1518.0ZM309.0 1506.0L317.3 1518.3L309.0 1530.5L300.8 1518.3ZM308.9 1506.2L317.1 1518.5L308.9 1530.7L300.6 1518.5ZM308.8 1506.4L317.0 1518.6L308.8 1530.9L300.5 1518.6ZM308.7 1506.5L316.9 1518.8L308.7 1531.0L300.4 1518.8ZM308.6 1506.6L316.8 1518.9L308.6 1531.1L300.3 1518.9ZM308.5 1506.8L316.8 1519.0L308.5 1531.3L300.3 1519.0ZM308.5 1506.8L316.7 1519.1L308.5 1531.3L300.2 1519.1ZM308.4 1506.9L316.7 1519.2L308.4 1531.4L300.2 1519.2ZM308.4 1507.0L316.6 1519.2L308.4 1531.5L300.1 1519.2ZM308.3 1507.0L316.6 1519.3L308.3 1531.5L300.1 1519.3ZM308.3 1507.1L316.5 1519.3L308.3 1531.6L300.0 1519.3ZM308.3 1507.1L316.5 1519.4L308.3 1531.6L300.0 1519.4ZM308.2 1507.2L316.5 1519.4L308.2 1531.7L300.0 1519.4ZM308.2 1507.2L316.5 1519.4L308.2 1531.7L300.0 1519.4ZM308.2 1507.2L316.5 1519.5L308.2 1531.7L300.0 1519.5ZM308.2 1507.2L316.4 1519.5L308.2 1531.7L299.9 1519.5ZM308.2 1507.2L316.4 1519.5L308.2 1531.7L299.9 1519.5ZM308.2 1507.3L316.4 1519.5L308.2 1531.8L299.9 1519.5ZM308.2 1507.3L316.4 1519.5L308.2 1531.8L299.9 1519.5ZM308.1 1507.3L316.4 1519.5L308.1 1531.8L299.9 1519.5ZM308.1 1507.3L316.4 1519.5L308.1 1531.8L299.9 1519.5ZM308.1 1507.3L316.4 1519.6L308.1 1531.8L299.9 1519.6ZM308.1 1507.3L316.4 1519.6L308.1 1531.8L299.9 1519.6ZM308.1 1507.3L316.4 1519.6L308.1 1531.8L299.9 1519.6ZM308.1 1507.3L316.4 1519.6L308.1 1531.8L299.9 1519.6ZM308.1 1507.3L316.4 1519.6L308.1 1531.8L299.9 1519.6ZM308.1 1507.3L316.4 1519.6L308.1 1531.8L299.9 1519.6ZM308.1 1507.3L316.4 1519.6L308.1 1531.8L299.9 1519.6ZM308.1 1507.3L316.4 1519.6L308.1 1531.8L299.9 1519.6ZM308.1 1507.3L316.4 1519.6L308.1 1531.8L299.9 1519.6ZM308.1 1507.3L316.4 1519.6L308.1 1531.8L299.9 1519.6ZM308.1 1507.3L316.4 1519.6L308.1 1531.8L299.9 1519.6ZM308.1 1507.3L316.4 1519.6L308.1 1531.8L299.9 1519.6ZM308.1 1507.3L316.4 1519.6L308.1 1531.8L299.9 1519.6ZM308.1 1507.3L316.4 1519.6L308.1 1531.8L299.9 1519.6ZM308.1 1507.3L316.4 1519.6L308.1 1531.8L299.9 1519.6ZM308.1 1507.3L316.4 1519.6L308.1 1531.8L299.9 1519.6Z" fill="none" stroke="#808080" stroke-width="3.5"/>
<polyline points="336.7,1517.1 336.2,1516.9 335.7,1516.6 335.0,1516.4 334.4,1516.1 333.6,1515.8 332.8,1515.6 331.9,1515.4 331.0,1515.1 330.0,1515.0 329.0,1514.8 328.0,1514.7 326.9,1514.6 325.9,1514.6 324.8,1514.5 323.8,1514.5 322.7,1514.5 321.7,1514.5 320.6,1514.5 319.5,1514.5 318.4,1514.5 317.2,1514.6 316.1,1514.7 315.0,1514.9 313.9,1515.2 313.0,1515.5 312.1,1515.9 311.4,1516.3 310.8,1516.7 310.3,1517.0 309.9,1517.4 309.6,1517.7 309.3,1518.0 309.1,1518.2 308.9,1518.4 308.8,1518.6 308.7,1518.7 308.6,1518.9 308.5,1519.0 308.4,1519.1 308.4,1519.1 308.3,1519.2 308.3,1519.3 308.3,1519.3 308.2,1519.4 308.2,1519.4 308.2,1519.4 308.2,1519.5 308.2,1519.5 308.2,1519.5 308.1,1519.5 308.1,1519.5 308.1,1519.5 308.1,1519.5 308.1,1519.6 308.1,1519.6 308.1,1519.6 308.1,1519.6 308.1,1519.6 308.1,1519.6 308.1,1519.6 308.1,1519.6 308.1,1519.6 308.1,1519.6 308.1,1519.6 308.1,1519.6 308.1,1519.6 308.1,1519.6 308.1,1519.6 308.1,1519.6 308.1,1519.6" fill="none" stroke="#808080" stroke-width="4.8" stroke-linejoin="round" stroke-linecap="round"/>
<path d="M336.7 1508.9L347.4 1525.4L325.9 1525.4ZM336.2 1508.6L347.0 1525.1L325.5 1525.1ZM335.7 1508.4L346.4 1524.9L324.9 1524.9ZM335.0 1508.1L345.8 1524.6L324.3 1524.6ZM334.4 1507.8L345.1 1524.3L323.6 1524.3ZM333.6 1507.6L344.4 1524.1L322.9 1524.1ZM332.8 1507.3L343.6 1523.8L322.1 1523.8ZM331.9 1507.1L342.7 1523.6L321.2 1523.6ZM331.0 1506.9L341.7 1523.4L320.2 1523.4ZM330.0 1506.7L340.8 1523.2L319.3 1523.2ZM329.0 1506.6L339.8 1523.1L318.3 1523.1ZM328.0 1506.5L338.7 1523.0L317.2 1523.0ZM326.9 1506.4L337.7 1522.9L316.2 1522.9ZM325.9 1506.3L336.6 1522.8L315.1 1522.8ZM324.8 1506.3L335.6 1522.8L314.1 1522.8ZM323.8 1506.3L334.5 1522.8L313.0 1522.8ZM322.7 1506.2L333.5 1522.7L312.0 1522.7ZM321.7 1506.2L332.4 1522.7L310.9 1522.7ZM320.6 1506.2L331.3 1522.7L309.8 1522.7ZM319.5 1506.2L330.3 1522.7L308.8 1522.7ZM318.4 1506.2L329.1 1522.7L307.6 1522.7ZM317.2 1506.3L328.0 1522.8L306.5 1522.8ZM316.1 1506.5L326.8 1523.0L305.3 1523.0ZM315.0 1506.7L325.7 1523.2L304.2 1523.2ZM313.9 1507.0L324.7 1523.5L303.2 1523.5ZM313.0 1507.3L323.7 1523.8L302.2 1523.8ZM312.1 1507.7L322.9 1524.2L301.4 1524.2ZM311.4 1508.0L322.2 1524.5L300.7 1524.5ZM310.8 1508.4L321.6 1524.9L300.1 1524.9ZM310.3 1508.8L321.1 1525.3L299.6 1525.3ZM309.9 1509.1L320.7 1525.6L299.2 1525.6ZM309.6 1509.4L320.3 1525.9L298.8 1525.9ZM309.3 1509.7L320.1 1526.2L298.6 1526.2ZM309.1 1509.9L319.9 1526.4L298.4 1526.4ZM308.9 1510.1L319.7 1526.6L298.2 1526.6ZM308.8 1510.3L319.6 1526.8L298.1 1526.8ZM308.7 1510.5L319.4 1527.0L297.9 1527.0ZM308.6 1510.6L319.3 1527.1L297.8 1527.1ZM308.5 1510.7L319.3 1527.2L297.8 1527.2ZM308.4 1510.8L319.2 1527.3L297.7 1527.3ZM308.4 1510.9L319.1 1527.4L297.6 1527.4ZM308.3 1511.0L319.1 1527.5L297.6 1527.5ZM308.3 1511.0L319.1 1527.5L297.6 1527.5ZM308.3 1511.1L319.0 1527.6L297.5 1527.6ZM308.2 1511.1L319.0 1527.6L297.5 1527.6ZM308.2 1511.1L319.0 1527.6L297.5 1527.6ZM308.2 1511.2L319.0 1527.7L297.5 1527.7ZM308.2 1511.2L318.9 1527.7L297.4 1527.7ZM308.2 1511.2L318.9 1527.7L297.4 1527.7ZM308.2 1511.2L318.9 1527.7L297.4 1527.7ZM308.1 1511.3L318.9 1527.8L297.4 1527.8ZM308.1 1511.3L318.9 1527.8L297.4 1527.8ZM308.1 1511.3L318.9 1527.8L297.4 1527.8ZM308.1 1511.3L318.9 1527.8L297.4 1527.8ZM308.1 1511.3L318.9 1527.8L297.4 1527.8ZM308.1 1511.3L318.9 1527.8L297.4 1527.8ZM308.1 1511.3L318.9 1527.8L297.4 1527.8ZM308.1 1511.3L318.9 1527.8L297.4 1527.8ZM308.1 1511.3L318.8 1527.8L297.3 1527.8ZM308.1 1511.3L318.8 1527.8L297.3 1527.8ZM308.1 1511.3L318.8 1527.8L297.3 1527.8ZM308.1 1511.3L318.8 1527.8L297.3 1527.8ZM308.1 1511.3L318.8 1527.8L297.3 1527.8ZM308.1 1511.3L318.8 1527.8L297.3 1527.8ZM308.1 1511.3L318.8 1527.8L297.3 1527.8ZM308.1 1511.3L318.8 1527.8L297.3 1527.8ZM308.1 1511.3L318.8 1527.8L297.3 1527.8ZM308.1 1511.3L318.8 1527.8L297.3 1527.8ZM308.1 1511.3L318.8 1527.8L297.3 1527.8ZM308.1 1511.3L318.8 1527.8L297.3 1527.8Z" fill="none" stroke="#808080" stroke-width="3.5"/>
<polyline points="749.8,1357.4 707.1,1349.3 664.9,1342.1 618.4,1342.1 571.8,1344.8 524.9,1353.3 488.0,1362.3 451.5,1375.8 420.1,1391.1 392.8,1407.2 373.6,1422.7 358.7,1437.1 347.2,1449.9 338.5,1461.1 331.9,1470.7 326.8,1478.9 322.9,1485.8 319.9,1491.6 317.5,1496.4 315.7,1500.4 314.3,1503.8 313.1,1506.5 312.2,1508.8 311.5,1510.7 310.9,1512.2 310.4,1513.5 310.0,1514.6 309.6,1515.5 309.4,1516.2 309.2,1516.8 309.0,1517.3 308.8,1517.7 308.7,1518.0 308.6,1518.3 308.5,1518.5 308.4,1518.7 308.4,1518.8 308.3,1519.0 308.3,1519.1 308.2,1519.2 308.2,1519.2 308.2,1519.3 308.2,1519.4 308.1,1519.4 308.1,1519.4 308.1,1519.5 308.1,1519.5 308.1,1519.5 308.1,1519.5 308.1,1519.5 308.1,1519.5 308.1,1519.6 308.1,1519.6 308.1,1519.6 308.1,1519.6 308.1,1519.6 308.1,1519.6 308.1,1519.6 308.1,1519.6 308.1,1519.6 308.0,1519.6 308.0,1519.6 308.0,1519.6 308.0,1519.6 308.0,1519.6 308.0,1519.6 308.0,1519.6 308.0,1519.6 308.0,1519.6 308.0,1519.6 308.0,1519.6" fill="none" stroke="#FF9900" stroke-width="4.8" stroke-linejoin="round" stroke-linecap="round"/>
<path d="M737.3 1344.9h25.0v25.0h-25.0ZM694.6 1336.8h25.0v25.0h-25.0ZM652.4 1329.6h25.0v25.0h-25.0ZM605.9 1329.6h25.0v25.0h-25.0ZM559.3 1332.3h25.0v25.0h-25.0ZM512.4 1340.8h25.0v25.0h-25.0ZM475.5 1349.8h25.0v25.0h-25.0ZM439.0 1363.3h25.0v25.0h-25.0ZM407.6 1378.6h25.0v25.0h-25.0ZM380.3 1394.7h25.0v25.0h-25.0ZM361.1 1410.2h25.0v25.0h-25.0ZM346.2 1424.6h25.0v25.0h-25.0ZM334.7 1437.4h25.0v25.0h-25.0ZM326.0 1448.6h25.0v25.0h-25.0ZM319.4 1458.2h25.0v25.0h-25.0ZM314.3 1466.4h25.0v25.0h-25.0ZM310.4 1473.3h25.0v25.0h-25.0ZM307.4 1479.1h25.0v25.0h-25.0ZM305.0 1483.9h25.0v25.0h-25.0ZM303.2 1487.9h25.0v25.0h-25.0ZM301.8 1491.3h25.0v25.0h-25.0ZM300.6 1494.0h25.0v25.0h-25.0ZM299.7 1496.3h25.0v25.0h-25.0ZM299.0 1498.2h25.0v25.0h-25.0ZM298.4 1499.7h25.0v25.0h-25.0ZM297.9 1501.0h25.0v25.0h-25.0ZM297.5 1502.1h25.0v25.0h-25.0ZM297.1 1503.0h25.0v25.0h-25.0ZM296.9 1503.7h25.0v25.0h-25.0ZM296.7 1504.3h25.0v25.0h-25.0ZM296.5 1504.8h25.0v25.0h-25.0ZM296.3 1505.2h25.0v25.0h-25.0ZM296.2 1505.5h25.0v25.0h-25.0ZM296.1 1505.8h25.0v25.0h-25.0ZM296.0 1506.0h25.0v25.0h-25.0ZM295.9 1506.2h25.0v25.0h-25.0ZM295.9 1506.3h25.0v25.0h-25.0ZM295.8 1506.5h25.0v25.0h-25.0ZM295.8 1506.6h25.0v25.0h-25.0ZM295.7 1506.7h25.0v25.0h-25.0ZM295.7 1506.7h25.0v25.0h-25.0ZM295.7 1506.8h25.0v25.0h-25.0ZM295.7 1506.9h25.0v25.0h-25.0ZM295.6 1506.9h25.0v25.0h-25.0ZM295.6 1506.9h25.0v25.0h-25.0ZM295.6 1507.0h25.0v25.0h-25.0ZM295.6 1507.0h25.0v25.0h-25.0ZM295.6 1507.0h25.0v25.0h-25.0ZM295.6 1507.0h25.0v25.0h-25.0ZM295.6 1507.0h25.0v25.0h-25.0ZM295.6 1507.0h25.0v25.0h-25.0ZM295.6 1507.1h25.0v25.0h-25.0ZM295.6 1507.1h25.0v25.0h-25.0ZM295.6 1507.1h25.0v25.0h-25.0ZM295.6 1507.1h25.0v25.0h-25.0ZM295.6 1507.1h25.0v25.0h-25.0ZM295.6 1507.1h25.0v25.0h-25.0ZM295.6 1507.1h25.0v25.0h-25.0ZM295.6 1507.1h25.0v25.0h-25.0ZM295.6 1507.1h25.0v25.0h-25.0ZM295.5 1507.1h25.0v25.0h-25.0ZM295.5 1507.1h25.0v25.0h-25.0ZM295.5 1507.1h25.0v25.0h-25.0ZM295.5 1507.1h25.0v25.0h-25.0ZM295.5 1507.1h25.0v25.0h-25.0ZM295.5 1507.1h25.0v25.0h-25.0ZM295.5 1507.1h25.0v25.0h-25.0ZM295.5 1507.1h25.0v25.0h-25.0ZM295.5 1507.1h25.0v25.0h-25.0ZM295.5 1507.1h25.0v25.0h-25.0Z" fill="#FF9900"/>
<polyline points="718.4,1186.1 647.8,1207.5 580.0,1234.1 524.9,1266.7 478.4,1295.6 439.4,1324.4 407.6,1353.0 384.4,1380.0 366.9,1399.2 353.7,1418.9 343.9,1436.3 336.5,1452.4 330.7,1464.0 326.3,1473.7 322.8,1481.7 320.0,1488.3 317.8,1493.8 316.1,1498.3 314.7,1502.0 313.5,1505.1 312.6,1507.6 311.8,1509.7 311.2,1511.4 310.6,1512.8 310.2,1514.0 309.8,1515.0 309.5,1515.8 309.3,1516.4 309.1,1517.0 308.9,1517.4 308.8,1517.8 308.6,1518.1 308.5,1518.4 308.4,1518.6 308.4,1518.7 308.3,1518.9 308.3,1519.0 308.2,1519.1 308.2,1519.2 308.1,1519.3 308.1,1519.3 308.1,1519.4 308.1,1519.4 308.1,1519.4 308.1,1519.5 308.0,1519.5 308.0,1519.5 308.0,1519.5 308.0,1519.5 308.0,1519.5 308.0,1519.6 308.0,1519.6 308.0,1519.6 308.0,1519.6 308.0,1519.6 308.0,1519.6 308.0,1519.6 308.0,1519.6 308.0,1519.6 308.0,1519.6 308.0,1519.6 308.0,1519.6 308.0,1519.6 308.0,1519.6 308.0,1519.6 308.0,1519.6 308.0,1519.6 308.0,1519.6 308.0,1519.6 308.0,1519.6 308.0,1519.6" fill="none" stroke="#FF9900" stroke-width="4.8" stroke-linejoin="round" stroke-linecap="round"/>
<path d="M718.4 1174.1L730.4 1186.1L718.4 1198.1L706.4 1186.1ZM647.8 1195.5L659.8 1207.5L647.8 1219.5L635.8 1207.5ZM580.0 1222.1L592.0 1234.1L580.0 1246.1L568.0 1234.1ZM524.9 1254.7L536.9 1266.7L524.9 1278.7L512.9 1266.7ZM478.4 1283.6L490.4 1295.6L478.4 1307.6L466.4 1295.6ZM439.4 1312.4L451.4 1324.4L439.4 1336.4L427.4 1324.4ZM407.6 1341.0L419.6 1353.0L407.6 1365.0L395.6 1353.0ZM384.4 1368.0L396.4 1380.0L384.4 1392.0L372.4 1380.0ZM366.9 1387.2L378.9 1399.2L366.9 1411.2L354.9 1399.2ZM353.7 1406.9L365.7 1418.9L353.7 1430.9L341.7 1418.9ZM343.9 1424.3L355.9 1436.3L343.9 1448.3L331.9 1436.3ZM336.5 1440.4L348.5 1452.4L336.5 1464.4L324.5 1452.4ZM330.7 1452.0L342.7 1464.0L330.7 1476.0L318.7 1464.0ZM326.3 1461.7L338.3 1473.7L326.3 1485.7L314.3 1473.7ZM322.8 1469.7L334.8 1481.7L322.8 1493.7L310.8 1481.7ZM320.0 1476.3L332.0 1488.3L320.0 1500.3L308.0 1488.3ZM317.8 1481.8L329.8 1493.8L317.8 1505.8L305.8 1493.8ZM316.1 1486.3L328.1 1498.3L316.1 1510.3L304.1 1498.3ZM314.7 1490.0L326.7 1502.0L314.7 1514.0L302.7 1502.0ZM313.5 1493.1L325.5 1505.1L313.5 1517.1L301.5 1505.1ZM312.6 1495.6L324.6 1507.6L312.6 1519.6L300.6 1507.6ZM311.8 1497.7L323.8 1509.7L311.8 1521.7L299.8 1509.7ZM311.2 1499.4L323.2 1511.4L311.2 1523.4L299.2 1511.4ZM310.6 1500.8L322.6 1512.8L310.6 1524.8L298.6 1512.8ZM310.2 1502.0L322.2 1514.0L310.2 1526.0L298.2 1514.0ZM309.8 1503.0L321.8 1515.0L309.8 1527.0L297.8 1515.0ZM309.5 1503.8L321.5 1515.8L309.5 1527.8L297.5 1515.8ZM309.3 1504.4L321.3 1516.4L309.3 1528.4L297.3 1516.4ZM309.1 1505.0L321.1 1517.0L309.1 1529.0L297.1 1517.0ZM308.9 1505.4L320.9 1517.4L308.9 1529.4L296.9 1517.4ZM308.8 1505.8L320.8 1517.8L308.8 1529.8L296.8 1517.8ZM308.6 1506.1L320.6 1518.1L308.6 1530.1L296.6 1518.1ZM308.5 1506.4L320.5 1518.4L308.5 1530.4L296.5 1518.4ZM308.4 1506.6L320.4 1518.6L308.4 1530.6L296.4 1518.6ZM308.4 1506.7L320.4 1518.7L308.4 1530.7L296.4 1518.7ZM308.3 1506.9L320.3 1518.9L308.3 1530.9L296.3 1518.9ZM308.3 1507.0L320.3 1519.0L308.3 1531.0L296.3 1519.0ZM308.2 1507.1L320.2 1519.1L308.2 1531.1L296.2 1519.1ZM308.2 1507.2L320.2 1519.2L308.2 1531.2L296.2 1519.2ZM308.1 1507.3L320.1 1519.3L308.1 1531.3L296.1 1519.3ZM308.1 1507.3L320.1 1519.3L308.1 1531.3L296.1 1519.3ZM308.1 1507.4L320.1 1519.4L308.1 1531.4L296.1 1519.4ZM308.1 1507.4L320.1 1519.4L308.1 1531.4L296.1 1519.4ZM308.1 1507.4L320.1 1519.4L308.1 1531.4L296.1 1519.4ZM308.1 1507.5L320.1 1519.5L308.1 1531.5L296.1 1519.5ZM308.0 1507.5L320.0 1519.5L308.0 1531.5L296.0 1519.5ZM308.0 1507.5L320.0 1519.5L308.0 1531.5L296.0 1519.5ZM308.0 1507.5L320.0 1519.5L308.0 1531.5L296.0 1519.5ZM308.0 1507.5L320.0 1519.5L308.0 1531.5L296.0 1519.5ZM308.0 1507.5L320.0 1519.5L308.0 1531.5L296.0 1519.5ZM308.0 1507.6L320.0 1519.6L308.0 1531.6L296.0 1519.6ZM308.0 1507.6L320.0 1519.6L308.0 1531.6L296.0 1519.6ZM308.0 1507.6L320.0 1519.6L308.0 1531.6L296.0 1519.6ZM308.0 1507.6L320.0 1519.6L308.0 1531.6L296.0 1519.6ZM308.0 1507.6L320.0 1519.6L308.0 1531.6L296.0 1519.6ZM308.0 1507.6L320.0 1519.6L308.0 1531.6L296.0 1519.6ZM308.0 1507.6L320.0 1519.6L308.0 1531.6L296.0 1519.6ZM308.0 1507.6L320.0 1519.6L308.0 1531.6L296.0 1519.6ZM308.0 1507.6L320.0 1519.6L308.0 1531.6L296.0 1519.6ZM308.0 1507.6L320.0 1519.6L308.0 1531.6L296.0 1519.6ZM308.0 1507.6L320.0 1519.6L308.0 1531.6L296.0 1519.6ZM308.0 1507.6L320.0 1519.6L308.0 1531.6L296.0 1519.6ZM308.0 1507.6L320.0 1519.6L308.0 1531.6L296.0 1519.6ZM308.0 1507.6L320.0 1519.6L308.0 1531.6L296.0 1519.6ZM308.0 1507.6L320.0 1519.6L308.0 1531.6L296.0 1519.6ZM308.0 1507.6L320.0 1519.6L308.0 1531.6L296.0 1519.6ZM308.0 1507.6L320.0 1519.6L308.0 1531.6L296.0 1519.6ZM308.0 1507.6L320.0 1519.6L308.0 1531.6L296.0 1519.6ZM308.0 1507.6L320.0 1519.6L308.0 1531.6L296.0 1519.6ZM308.0 1507.6L320.0 1519.6L308.0 1531.6L296.0 1519.6Z" fill="#FF9900"/>
<polyline points="561.6,1295.2 519.8,1318.7 482.5,1339.6 450.6,1358.7 425.2,1378.5 404.4,1397.3 387.7,1415.6 373.4,1430.0 361.6,1442.8 351.9,1454.0 344.0,1463.7 337.6,1472.2 332.3,1479.4 328.0,1485.6 324.5,1490.9 321.6,1495.5 319.2,1499.3 317.3,1502.5 315.7,1505.2 314.4,1507.5 313.3,1509.5 312.4,1511.1 311.7,1512.5 311.1,1513.6 310.6,1514.6 310.1,1515.4 309.8,1516.1 309.5,1516.7 309.2,1517.1 309.0,1517.5 308.9,1517.9 308.7,1518.2 308.6,1518.4 308.5,1518.6 308.4,1518.8 308.3,1518.9 308.3,1519.0 308.2,1519.1 308.2,1519.2 308.2,1519.3 308.1,1519.3 308.1,1519.4 308.1,1519.4 308.1,1519.4 308.1,1519.5 308.0,1519.5 308.0,1519.5 308.0,1519.5 308.0,1519.5 308.0,1519.5 308.0,1519.6 308.0,1519.6 308.0,1519.6 308.0,1519.6 308.0,1519.6 308.0,1519.6 308.0,1519.6 308.0,1519.6 308.0,1519.6 308.0,1519.6 308.0,1519.6 308.0,1519.6 308.0,1519.6 308.0,1519.6 308.0,1519.6 308.0,1519.6 308.0,1519.6 308.0,1519.6 308.0,1519.6 308.0,1519.6 308.0,1519.6" fill="none" stroke="#FF9900" stroke-width="4.8" stroke-linejoin="round" stroke-linecap="round"/>
<path d="M561.6 1283.2L573.6 1307.2L549.6 1307.2ZM519.8 1306.7L531.8 1330.7L507.8 1330.7ZM482.5 1327.6L494.5 1351.6L470.5 1351.6ZM450.6 1346.7L462.6 1370.7L438.6 1370.7ZM425.2 1366.5L437.2 1390.5L413.2 1390.5ZM404.4 1385.3L416.4 1409.3L392.4 1409.3ZM387.7 1403.6L399.7 1427.6L375.7 1427.6ZM373.4 1418.0L385.4 1442.0L361.4 1442.0ZM361.6 1430.8L373.6 1454.8L349.6 1454.8ZM351.9 1442.0L363.9 1466.0L339.9 1466.0ZM344.0 1451.7L356.0 1475.7L332.0 1475.7ZM337.6 1460.2L349.6 1484.2L325.6 1484.2ZM332.3 1467.4L344.3 1491.4L320.3 1491.4ZM328.0 1473.6L340.0 1497.6L316.0 1497.6ZM324.5 1478.9L336.5 1502.9L312.5 1502.9ZM321.6 1483.5L333.6 1507.5L309.6 1507.5ZM319.2 1487.3L331.2 1511.3L307.2 1511.3ZM317.3 1490.5L329.3 1514.5L305.3 1514.5ZM315.7 1493.2L327.7 1517.2L303.7 1517.2ZM314.4 1495.5L326.4 1519.5L302.4 1519.5ZM313.3 1497.5L325.3 1521.5L301.3 1521.5ZM312.4 1499.1L324.4 1523.1L300.4 1523.1ZM311.7 1500.5L323.7 1524.5L299.7 1524.5ZM311.1 1501.6L323.1 1525.6L299.1 1525.6ZM310.6 1502.6L322.6 1526.6L298.6 1526.6ZM310.1 1503.4L322.1 1527.4L298.1 1527.4ZM309.8 1504.1L321.8 1528.1L297.8 1528.1ZM309.5 1504.7L321.5 1528.7L297.5 1528.7ZM309.2 1505.1L321.2 1529.1L297.2 1529.1ZM309.0 1505.5L321.0 1529.5L297.0 1529.5ZM308.9 1505.9L320.9 1529.9L296.9 1529.9ZM308.7 1506.2L320.7 1530.2L296.7 1530.2ZM308.6 1506.4L320.6 1530.4L296.6 1530.4ZM308.5 1506.6L320.5 1530.6L296.5 1530.6ZM308.4 1506.8L320.4 1530.8L296.4 1530.8ZM308.3 1506.9L320.3 1530.9L296.3 1530.9ZM308.3 1507.0L320.3 1531.0L296.3 1531.0ZM308.2 1507.1L320.2 1531.1L296.2 1531.1ZM308.2 1507.2L320.2 1531.2L296.2 1531.2ZM308.2 1507.3L320.2 1531.3L296.2 1531.3ZM308.1 1507.3L320.1 1531.3L296.1 1531.3ZM308.1 1507.4L320.1 1531.4L296.1 1531.4ZM308.1 1507.4L320.1 1531.4L296.1 1531.4ZM308.1 1507.4L320.1 1531.4L296.1 1531.4ZM308.1 1507.5L320.1 1531.5L296.1 1531.5ZM308.0 1507.5L320.0 1531.5L296.0 1531.5ZM308.0 1507.5L320.0 1531.5L296.0 1531.5ZM308.0 1507.5L320.0 1531.5L296.0 1531.5ZM308.0 1507.5L320.0 1531.5L296.0 1531.5ZM308.0 1507.5L320.0 1531.5L296.0 1531.5ZM308.0 1507.6L320.0 1531.6L296.0 1531.6ZM308.0 1507.6L320.0 1531.6L296.0 1531.6ZM308.0 1507.6L320.0 1531.6L296.0 1531.6ZM308.0 1507.6L320.0 1531.6L296.0 1531.6ZM308.0 1507.6L320.0 1531.6L296.0 1531.6ZM308.0 1507.6L320.0 1531.6L296.0 1531.6ZM308.0 1507.6L320.0 1531.6L296.0 1531.6ZM308.0 1507.6L320.0 1531.6L296.0 1531.6ZM308.0 1507.6L320.0 1531.6L296.0 1531.6ZM308.0 1507.6L320.0 1531.6L296.0 1531.6ZM308.0 1507.6L320.0 1531.6L296.0 1531.6ZM308.0 1507.6L320.0 1531.6L296.0 1531.6ZM308.0 1507.6L320.0 1531.6L296.0 1531.6ZM308.0 1507.6L320.0 1531.6L296.0 1531.6ZM308.0 1507.6L320.0 1531.6L296.0 1531.6ZM308.0 1507.6L320.0 1531.6L296.0 1531.6ZM308.0 1507.6L320.0 1531.6L296.0 1531.6ZM308.0 1507.6L320.0 1531.6L296.0 1531.6ZM308.0 1507.6L320.0 1531.6L296.0 1531.6ZM308.0 1507.6L320.0 1531.6L296.0 1531.6Z" fill="#FF9900"/>
<polyline points="293.6,2054.0 322.2,2078.2 350.8,2102.9 379.4,2128.0 408.1,2153.4 436.7,2179.0 465.3,2204.9 493.9,2230.9 522.5,2257.2 551.1,2283.5 579.8,2310.0 608.4,2336.6 637.0,2363.2 665.6,2390.0 694.2,2416.8 722.8,2443.7 751.5,2470.6 780.1,2497.6 808.7,2524.6 837.3,2551.6 865.9,2578.6 894.5,2605.5 923.1,2632.5 951.8,2659.4 980.4,2686.2 1009.0,2712.9 1037.6,2739.6 1066.2,2766.0 1094.8,2792.3 1123.5,2818.3 1152.1,2844.0 1180.7,2869.2 1209.3,2893.9 1237.9,2917.8 1266.5,2940.8 1295.2,2961.9 1323.8,2981.0 1352.4,2998.1 1381.0,3013.5 1409.6,3027.4 1438.2,3039.9 1466.8,3050.9 1495.5,3060.6 1524.1,3069.2 1552.7,3077.1 1581.3,3084.4 1609.9,3091.3 1638.5,3098.0 1667.2,3104.4 1695.8,3110.5 1724.4,3116.1 1753.0,3121.0 1781.6,3125.3 1810.2,3128.8 1838.8,3131.6 1867.5,3133.8 1896.1,3135.4 1924.7,3136.6 1953.3,3137.4 1981.9,3138.0 2010.5,3138.4 2039.2,3138.7 2067.8,3139.0 2096.4,3139.2 2125.0,3139.4 2153.6,3139.7 2182.2,3140.0 2210.9,3140.4 2239.5,3141.0 2268.1,3141.6 2296.7,3141.7" fill="none" stroke="#000" stroke-width="5.8" stroke-linejoin="round" stroke-linecap="round"/>
<polyline points="293.6,2210.6 322.2,2224.0 350.8,2238.2 379.4,2253.5 408.1,2270.0 436.7,2287.9 465.3,2307.1 493.9,2327.6 522.5,2349.1 551.1,2371.4 579.8,2394.4 608.4,2417.9 637.0,2441.7 665.6,2465.8 694.2,2490.0 722.8,2514.4 751.5,2538.8 780.1,2563.3 808.7,2587.7 837.3,2612.2 865.9,2636.7 894.5,2661.1 923.1,2685.5 951.8,2709.8 980.4,2734.0 1009.0,2758.2 1037.6,2782.3 1066.2,2806.3 1094.8,2830.1 1123.5,2853.7 1152.1,2877.1 1180.7,2900.3 1209.3,2923.1 1237.9,2945.5 1266.5,2967.4 1295.2,2988.7 1323.8,3009.1 1352.4,3028.6 1381.0,3046.9 1409.6,3063.9 1438.2,3079.3 1466.8,3093.1 1495.5,3105.2 1524.1,3115.6 1552.7,3124.4 1581.3,3131.6 1609.9,3137.6 1638.5,3142.4 1667.2,3146.3 1695.8,3149.4 1724.4,3151.9 1753.0,3154.0 1781.6,3155.6 1810.2,3156.9 1838.8,3158.0 1867.5,3159.0 1896.1,3159.7 1924.7,3160.4 1953.3,3161.0 1981.9,3161.5 2010.5,3161.9 2039.2,3162.4 2067.8,3162.7 2096.4,3163.1 2125.0,3163.5 2153.6,3163.8 2182.2,3164.2 2210.9,3164.5 2239.5,3164.9 2268.1,3165.2 2296.7,3165.3" fill="none" stroke="#0000CD" stroke-width="5.5" stroke-linejoin="round" stroke-linecap="round"/>
<polyline points="293.6,2341.3 322.2,2353.5 350.8,2364.3 379.4,2374.4 408.1,2384.5 436.7,2395.0 465.3,2406.4 493.9,2418.9 522.5,2432.8 551.1,2448.1 579.8,2464.9 608.4,2483.3 637.0,2503.0 665.6,2523.6 694.2,2544.6 722.8,2565.8 751.5,2586.8 780.1,2607.5 808.7,2628.0 837.3,2648.2 865.9,2668.2 894.5,2688.0 923.1,2707.6 951.8,2727.0 980.4,2746.2 1009.0,2765.3 1037.6,2784.3 1066.2,2803.2 1094.8,2822.1 1123.5,2840.9 1152.1,2859.7 1180.7,2878.4 1209.3,2897.1 1237.9,2915.8 1266.5,2934.4 1295.2,2952.9 1323.8,2971.2 1352.4,2988.9 1381.0,3005.9 1409.6,3022.0 1438.2,3036.9 1466.8,3050.6 1495.5,3062.7 1524.1,3073.2 1552.7,3082.2 1581.3,3089.9 1609.9,3096.5 1638.5,3102.3 1667.2,3107.3 1695.8,3111.6 1724.4,3115.3 1753.0,3118.6 1781.6,3121.4 1810.2,3123.9 1838.8,3126.1 1867.5,3128.1 1896.1,3129.9 1924.7,3131.5 1953.3,3133.0 1981.9,3134.4 2010.5,3135.6 2039.2,3136.7 2067.8,3137.6 2096.4,3138.5 2125.0,3139.2 2153.6,3139.8 2182.2,3140.2 2210.9,3140.5 2239.5,3140.6 2268.1,3140.5 2296.7,3140.6" fill="none" stroke="#808080" stroke-width="5.5" stroke-linejoin="round" stroke-linecap="round"/>
<path d="M282.6 2330.3h22.0v22.0h-22.0ZM311.2 2342.5h22.0v22.0h-22.0ZM339.8 2353.3h22.0v22.0h-22.0ZM368.4 2363.4h22.0v22.0h-22.0ZM397.1 2373.5h22.0v22.0h-22.0ZM425.7 2384.0h22.0v22.0h-22.0ZM454.3 2395.4h22.0v22.0h-22.0ZM482.9 2407.9h22.0v22.0h-22.0ZM511.5 2421.8h22.0v22.0h-22.0ZM540.1 2437.1h22.0v22.0h-22.0ZM568.8 2453.9h22.0v22.0h-22.0ZM597.4 2472.3h22.0v22.0h-22.0ZM626.0 2492.0h22.0v22.0h-22.0ZM654.6 2512.6h22.0v22.0h-22.0ZM683.2 2533.6h22.0v22.0h-22.0ZM711.8 2554.8h22.0v22.0h-22.0ZM740.5 2575.8h22.0v22.0h-22.0ZM769.1 2596.5h22.0v22.0h-22.0ZM797.7 2617.0h22.0v22.0h-22.0ZM826.3 2637.2h22.0v22.0h-22.0ZM854.9 2657.2h22.0v22.0h-22.0ZM883.5 2677.0h22.0v22.0h-22.0ZM912.1 2696.6h22.0v22.0h-22.0ZM940.8 2716.0h22.0v22.0h-22.0ZM969.4 2735.2h22.0v22.0h-22.0ZM998.0 2754.3h22.0v22.0h-22.0ZM1026.6 2773.3h22.0v22.0h-22.0ZM1055.2 2792.2h22.0v22.0h-22.0ZM1083.8 2811.1h22.0v22.0h-22.0ZM1112.5 2829.9h22.0v22.0h-22.0ZM1141.1 2848.7h22.0v22.0h-22.0ZM1169.7 2867.4h22.0v22.0h-22.0ZM1198.3 2886.1h22.0v22.0h-22.0ZM1226.9 2904.8h22.0v22.0h-22.0ZM1255.5 2923.4h22.0v22.0h-22.0ZM1284.2 2941.9h22.0v22.0h-22.0ZM1312.8 2960.2h22.0v22.0h-22.0ZM1341.4 2977.9h22.0v22.0h-22.0ZM1370.0 2994.9h22.0v22.0h-22.0ZM1398.6 3011.0h22.0v22.0h-22.0ZM1427.2 3025.9h22.0v22.0h-22.0ZM1455.8 3039.6h22.0v22.0h-22.0ZM1484.5 3051.7h22.0v22.0h-22.0ZM1513.1 3062.2h22.0v22.0h-22.0ZM1541.7 3071.2h22.0v22.0h-22.0ZM1570.3 3078.9h22.0v22.0h-22.0ZM1598.9 3085.5h22.0v22.0h-22.0ZM1627.5 3091.3h22.0v22.0h-22.0ZM1656.2 3096.3h22.0v22.0h-22.0ZM1684.8 3100.6h22.0v22.0h-22.0ZM1713.4 3104.3h22.0v22.0h-22.0ZM1742.0 3107.6h22.0v22.0h-22.0ZM1770.6 3110.4h22.0v22.0h-22.0ZM1799.2 3112.9h22.0v22.0h-22.0ZM1827.8 3115.1h22.0v22.0h-22.0ZM1856.5 3117.1h22.0v22.0h-22.0ZM1885.1 3118.9h22.0v22.0h-22.0ZM1913.7 3120.5h22.0v22.0h-22.0ZM1942.3 3122.0h22.0v22.0h-22.0ZM1970.9 3123.4h22.0v22.0h-22.0ZM1999.5 3124.6h22.0v22.0h-22.0ZM2028.2 3125.7h22.0v22.0h-22.0ZM2056.8 3126.6h22.0v22.0h-22.0ZM2085.4 3127.5h22.0v22.0h-22.0ZM2114.0 3128.2h22.0v22.0h-22.0ZM2142.6 3128.8h22.0v22.0h-22.0ZM2171.2 3129.2h22.0v22.0h-22.0ZM2199.9 3129.5h22.0v22.0h-22.0ZM2228.5 3129.6h22.0v22.0h-22.0ZM2257.1 3129.5h22.0v22.0h-22.0Z" fill="none" stroke="#808080" stroke-width="3.0"/>
<polyline points="293.6,2319.5 322.2,2328.2 350.8,2337.3 379.4,2346.8 408.1,2356.5 436.7,2366.7 465.3,2377.4 493.9,2388.9 522.5,2401.7 551.1,2416.1 579.8,2432.5 608.4,2450.8 637.0,2470.8 665.6,2492.0 694.2,2514.1 722.8,2536.7 751.5,2559.6 780.1,2582.5 808.7,2605.3 837.3,2628.0 865.9,2650.5 894.5,2672.8 923.1,2695.0 951.8,2716.9 980.4,2738.6 1009.0,2760.1 1037.6,2781.4 1066.2,2802.4 1094.8,2823.1 1123.5,2843.6 1152.1,2863.7 1180.7,2883.5 1209.3,2902.8 1237.9,2921.7 1266.5,2940.1 1295.2,2957.9 1323.8,2975.0 1352.4,2991.3 1381.0,3006.8 1409.6,3021.4 1438.2,3035.0 1466.8,3047.6 1495.5,3059.0 1524.1,3069.4 1552.7,3078.6 1581.3,3086.8 1609.9,3094.0 1638.5,3100.3 1667.2,3105.7 1695.8,3110.4 1724.4,3114.4 1753.0,3117.8 1781.6,3120.7 1810.2,3123.2 1838.8,3125.2 1867.5,3127.0 1896.1,3128.5 1924.7,3129.7 1953.3,3130.7 1981.9,3131.6 2010.5,3132.2 2039.2,3132.8 2067.8,3133.2 2096.4,3133.5 2125.0,3133.7 2153.6,3133.8 2182.2,3133.8 2210.9,3133.8 2239.5,3133.6 2268.1,3133.4 2296.7,3133.6" fill="none" stroke="#808080" stroke-width="5.5" stroke-linejoin="round" stroke-linecap="round"/>
<path d="M293.6 2307.0L306.1 2319.5L293.6 2332.0L281.1 2319.5ZM322.2 2315.7L334.7 2328.2L322.2 2340.7L309.7 2328.2ZM350.8 2324.8L363.3 2337.3L350.8 2349.8L338.3 2337.3ZM379.4 2334.3L391.9 2346.8L379.4 2359.3L366.9 2346.8ZM408.1 2344.0L420.6 2356.5L408.1 2369.0L395.6 2356.5ZM436.7 2354.2L449.2 2366.7L436.7 2379.2L424.2 2366.7ZM465.3 2364.9L477.8 2377.4L465.3 2389.9L452.8 2377.4ZM493.9 2376.4L506.4 2388.9L493.9 2401.4L481.4 2388.9ZM522.5 2389.2L535.0 2401.7L522.5 2414.2L510.0 2401.7ZM551.1 2403.6L563.6 2416.1L551.1 2428.6L538.6 2416.1ZM579.8 2420.0L592.3 2432.5L579.8 2445.0L567.3 2432.5ZM608.4 2438.3L620.9 2450.8L608.4 2463.3L595.9 2450.8ZM637.0 2458.3L649.5 2470.8L637.0 2483.3L624.5 2470.8ZM665.6 2479.5L678.1 2492.0L665.6 2504.5L653.1 2492.0ZM694.2 2501.6L706.7 2514.1L694.2 2526.6L681.7 2514.1ZM722.8 2524.2L735.3 2536.7L722.8 2549.2L710.3 2536.7ZM751.5 2547.1L764.0 2559.6L751.5 2572.1L739.0 2559.6ZM780.1 2570.0L792.6 2582.5L780.1 2595.0L767.6 2582.5ZM808.7 2592.8L821.2 2605.3L808.7 2617.8L796.2 2605.3ZM837.3 2615.5L849.8 2628.0L837.3 2640.5L824.8 2628.0ZM865.9 2638.0L878.4 2650.5L865.9 2663.0L853.4 2650.5ZM894.5 2660.3L907.0 2672.8L894.5 2685.3L882.0 2672.8ZM923.1 2682.5L935.6 2695.0L923.1 2707.5L910.6 2695.0ZM951.8 2704.4L964.3 2716.9L951.8 2729.4L939.3 2716.9ZM980.4 2726.1L992.9 2738.6L980.4 2751.1L967.9 2738.6ZM1009.0 2747.6L1021.5 2760.1L1009.0 2772.6L996.5 2760.1ZM1037.6 2768.9L1050.1 2781.4L1037.6 2793.9L1025.1 2781.4ZM1066.2 2789.9L1078.7 2802.4L1066.2 2814.9L1053.7 2802.4ZM1094.8 2810.6L1107.3 2823.1L1094.8 2835.6L1082.3 2823.1ZM1123.5 2831.1L1136.0 2843.6L1123.5 2856.1L1111.0 2843.6ZM1152.1 2851.2L1164.6 2863.7L1152.1 2876.2L1139.6 2863.7ZM1180.7 2871.0L1193.2 2883.5L1180.7 2896.0L1168.2 2883.5ZM1209.3 2890.3L1221.8 2902.8L1209.3 2915.3L1196.8 2902.8ZM1237.9 2909.2L1250.4 2921.7L1237.9 2934.2L1225.4 2921.7ZM1266.5 2927.6L1279.0 2940.1L1266.5 2952.6L1254.0 2940.1ZM1295.2 2945.4L1307.7 2957.9L1295.2 2970.4L1282.7 2957.9ZM1323.8 2962.5L1336.3 2975.0L1323.8 2987.5L1311.3 2975.0ZM1352.4 2978.8L1364.9 2991.3L1352.4 3003.8L1339.9 2991.3ZM1381.0 2994.3L1393.5 3006.8L1381.0 3019.3L1368.5 3006.8ZM1409.6 3008.9L1422.1 3021.4L1409.6 3033.9L1397.1 3021.4ZM1438.2 3022.5L1450.7 3035.0L1438.2 3047.5L1425.7 3035.0ZM1466.8 3035.1L1479.3 3047.6L1466.8 3060.1L1454.3 3047.6ZM1495.5 3046.5L1508.0 3059.0L1495.5 3071.5L1483.0 3059.0ZM1524.1 3056.9L1536.6 3069.4L1524.1 3081.9L1511.6 3069.4ZM1552.7 3066.1L1565.2 3078.6L1552.7 3091.1L1540.2 3078.6ZM1581.3 3074.3L1593.8 3086.8L1581.3 3099.3L1568.8 3086.8ZM1609.9 3081.5L1622.4 3094.0L1609.9 3106.5L1597.4 3094.0ZM1638.5 3087.8L1651.0 3100.3L1638.5 3112.8L1626.0 3100.3ZM1667.2 3093.2L1679.7 3105.7L1667.2 3118.2L1654.7 3105.7ZM1695.8 3097.9L1708.3 3110.4L1695.8 3122.9L1683.3 3110.4ZM1724.4 3101.9L1736.9 3114.4L1724.4 3126.9L1711.9 3114.4ZM1753.0 3105.3L1765.5 3117.8L1753.0 3130.3L1740.5 3117.8ZM1781.6 3108.2L1794.1 3120.7L1781.6 3133.2L1769.1 3120.7ZM1810.2 3110.7L1822.7 3123.2L1810.2 3135.7L1797.7 3123.2ZM1838.8 3112.7L1851.3 3125.2L1838.8 3137.7L1826.3 3125.2ZM1867.5 3114.5L1880.0 3127.0L1867.5 3139.5L1855.0 3127.0ZM1896.1 3116.0L1908.6 3128.5L1896.1 3141.0L1883.6 3128.5ZM1924.7 3117.2L1937.2 3129.7L1924.7 3142.2L1912.2 3129.7ZM1953.3 3118.2L1965.8 3130.7L1953.3 3143.2L1940.8 3130.7ZM1981.9 3119.1L1994.4 3131.6L1981.9 3144.1L1969.4 3131.6ZM2010.5 3119.7L2023.0 3132.2L2010.5 3144.7L1998.0 3132.2ZM2039.2 3120.3L2051.7 3132.8L2039.2 3145.3L2026.7 3132.8ZM2067.8 3120.7L2080.3 3133.2L2067.8 3145.7L2055.3 3133.2ZM2096.4 3121.0L2108.9 3133.5L2096.4 3146.0L2083.9 3133.5ZM2125.0 3121.2L2137.5 3133.7L2125.0 3146.2L2112.5 3133.7ZM2153.6 3121.3L2166.1 3133.8L2153.6 3146.3L2141.1 3133.8ZM2182.2 3121.3L2194.7 3133.8L2182.2 3146.3L2169.7 3133.8ZM2210.9 3121.3L2223.4 3133.8L2210.9 3146.3L2198.4 3133.8ZM2239.5 3121.1L2252.0 3133.6L2239.5 3146.1L2227.0 3133.6ZM2268.1 3120.9L2280.6 3133.4L2268.1 3145.9L2255.6 3133.4Z" fill="none" stroke="#808080" stroke-width="3.0"/>
<polyline points="293.6,2589.8 322.2,2591.9 350.8,2594.2 379.4,2596.8 408.1,2599.8 436.7,2603.1 465.3,2606.8 493.9,2610.9 522.5,2615.4 551.1,2620.3 579.8,2625.6 608.4,2631.3 637.0,2637.3 665.6,2643.6 694.2,2650.2 722.8,2657.1 751.5,2664.4 780.1,2672.0 808.7,2680.1 837.3,2689.0 865.9,2698.6 894.5,2709.3 923.1,2721.3 951.8,2734.6 980.4,2749.2 1009.0,2765.1 1037.6,2782.2 1066.2,2800.1 1094.8,2818.9 1123.5,2838.1 1152.1,2857.6 1180.7,2877.2 1209.3,2896.7 1237.9,2916.1 1266.5,2935.1 1295.2,2953.6 1323.8,2971.6 1352.4,2988.8 1381.0,3005.2 1409.6,3020.6 1438.2,3035.0 1466.8,3048.3 1495.5,3060.4 1524.1,3071.3 1552.7,3080.9 1581.3,3089.4 1609.9,3096.9 1638.5,3103.3 1667.2,3108.8 1695.8,3113.5 1724.4,3117.5 1753.0,3120.9 1781.6,3123.8 1810.2,3126.3 1838.8,3128.4 1867.5,3130.2 1896.1,3131.8 1924.7,3133.1 1953.3,3134.2 1981.9,3135.2 2010.5,3136.1 2039.2,3136.8 2067.8,3137.5 2096.4,3138.1 2125.0,3138.6 2153.6,3139.1 2182.2,3139.6 2210.9,3140.0 2239.5,3140.3 2268.1,3140.7 2296.7,3140.9" fill="none" stroke="#808080" stroke-width="5.5" stroke-linejoin="round" stroke-linecap="round"/>
<path d="M293.6 2581.8L301.1 2597.8L286.1 2597.8ZM322.2 2583.9L329.7 2599.9L314.7 2599.9ZM350.8 2586.2L358.3 2602.2L343.3 2602.2ZM379.4 2588.8L386.9 2604.8L371.9 2604.8ZM408.1 2591.8L415.6 2607.8L400.6 2607.8ZM436.7 2595.1L444.2 2611.1L429.2 2611.1ZM465.3 2598.8L472.8 2614.8L457.8 2614.8ZM493.9 2602.9L501.4 2618.9L486.4 2618.9ZM522.5 2607.4L530.0 2623.4L515.0 2623.4ZM551.1 2612.3L558.6 2628.3L543.6 2628.3ZM579.8 2617.6L587.3 2633.6L572.3 2633.6ZM608.4 2623.3L615.9 2639.3L600.9 2639.3ZM637.0 2629.3L644.5 2645.3L629.5 2645.3ZM665.6 2635.6L673.1 2651.6L658.1 2651.6ZM694.2 2642.2L701.7 2658.2L686.7 2658.2ZM722.8 2649.1L730.3 2665.1L715.3 2665.1ZM751.5 2656.4L759.0 2672.4L744.0 2672.4ZM780.1 2664.0L787.6 2680.0L772.6 2680.0ZM808.7 2672.1L816.2 2688.1L801.2 2688.1ZM837.3 2681.0L844.8 2697.0L829.8 2697.0ZM865.9 2690.6L873.4 2706.6L858.4 2706.6ZM894.5 2701.3L902.0 2717.3L887.0 2717.3ZM923.1 2713.3L930.6 2729.3L915.6 2729.3ZM951.8 2726.6L959.3 2742.6L944.3 2742.6ZM980.4 2741.2L987.9 2757.2L972.9 2757.2ZM1009.0 2757.1L1016.5 2773.1L1001.5 2773.1ZM1037.6 2774.2L1045.1 2790.2L1030.1 2790.2ZM1066.2 2792.1L1073.7 2808.1L1058.7 2808.1ZM1094.8 2810.9L1102.3 2826.9L1087.3 2826.9ZM1123.5 2830.1L1131.0 2846.1L1116.0 2846.1ZM1152.1 2849.6L1159.6 2865.6L1144.6 2865.6ZM1180.7 2869.2L1188.2 2885.2L1173.2 2885.2ZM1209.3 2888.7L1216.8 2904.7L1201.8 2904.7ZM1237.9 2908.1L1245.4 2924.1L1230.4 2924.1ZM1266.5 2927.1L1274.0 2943.1L1259.0 2943.1ZM1295.2 2945.6L1302.7 2961.6L1287.7 2961.6ZM1323.8 2963.6L1331.3 2979.6L1316.3 2979.6ZM1352.4 2980.8L1359.9 2996.8L1344.9 2996.8ZM1381.0 2997.2L1388.5 3013.2L1373.5 3013.2ZM1409.6 3012.6L1417.1 3028.6L1402.1 3028.6ZM1438.2 3027.0L1445.7 3043.0L1430.7 3043.0ZM1466.8 3040.3L1474.3 3056.3L1459.3 3056.3ZM1495.5 3052.4L1503.0 3068.4L1488.0 3068.4ZM1524.1 3063.3L1531.6 3079.3L1516.6 3079.3ZM1552.7 3072.9L1560.2 3088.9L1545.2 3088.9ZM1581.3 3081.4L1588.8 3097.4L1573.8 3097.4ZM1609.9 3088.9L1617.4 3104.9L1602.4 3104.9ZM1638.5 3095.3L1646.0 3111.3L1631.0 3111.3ZM1667.2 3100.8L1674.7 3116.8L1659.7 3116.8ZM1695.8 3105.5L1703.3 3121.5L1688.3 3121.5ZM1724.4 3109.5L1731.9 3125.5L1716.9 3125.5ZM1753.0 3112.9L1760.5 3128.9L1745.5 3128.9ZM1781.6 3115.8L1789.1 3131.8L1774.1 3131.8ZM1810.2 3118.3L1817.7 3134.3L1802.7 3134.3ZM1838.8 3120.4L1846.3 3136.4L1831.3 3136.4ZM1867.5 3122.2L1875.0 3138.2L1860.0 3138.2ZM1896.1 3123.8L1903.6 3139.8L1888.6 3139.8ZM1924.7 3125.1L1932.2 3141.1L1917.2 3141.1ZM1953.3 3126.2L1960.8 3142.2L1945.8 3142.2ZM1981.9 3127.2L1989.4 3143.2L1974.4 3143.2ZM2010.5 3128.1L2018.0 3144.1L2003.0 3144.1ZM2039.2 3128.8L2046.7 3144.8L2031.7 3144.8ZM2067.8 3129.5L2075.3 3145.5L2060.3 3145.5ZM2096.4 3130.1L2103.9 3146.1L2088.9 3146.1ZM2125.0 3130.6L2132.5 3146.6L2117.5 3146.6ZM2153.6 3131.1L2161.1 3147.1L2146.1 3147.1ZM2182.2 3131.6L2189.7 3147.6L2174.7 3147.6ZM2210.9 3132.0L2218.4 3148.0L2203.4 3148.0ZM2239.5 3132.3L2247.0 3148.3L2232.0 3148.3ZM2268.1 3132.7L2275.6 3148.7L2260.6 3148.7Z" fill="none" stroke="#808080" stroke-width="3.0"/>
<polyline points="293.6,2221.0 322.2,2228.8 350.8,2238.3 379.4,2249.7 408.1,2263.2 436.7,2278.6 465.3,2296.0 493.9,2315.1 522.5,2335.7 551.1,2357.4 579.8,2380.1 608.4,2403.4 637.0,2427.3 665.6,2451.6 694.2,2476.1 722.8,2500.8 751.5,2525.7 780.1,2550.6 808.7,2575.6 837.3,2600.5 865.9,2625.5 894.5,2650.5 923.1,2675.3 951.8,2700.2 980.4,2724.9 1009.0,2749.5 1037.6,2774.0 1066.2,2798.3 1094.8,2822.5 1123.5,2846.4 1152.1,2870.0 1180.7,2893.3 1209.3,2916.2 1237.9,2938.6 1266.5,2960.4 1295.2,2981.4 1323.8,3001.5 1352.4,3020.5 1381.0,3038.3 1409.6,3054.6 1438.2,3069.4 1466.8,3082.6 1495.5,3094.0 1524.1,3103.9 1552.7,3112.2 1581.3,3119.2 1609.9,3124.9 1638.5,3129.6 1667.2,3133.5 1695.8,3136.6 1724.4,3139.2 1753.0,3141.4 1781.6,3143.1 1810.2,3144.6 1838.8,3145.8 1867.5,3146.9 1896.1,3147.8 1924.7,3148.6 1953.3,3149.3 1981.9,3149.9 2010.5,3150.5 2039.2,3151.0 2067.8,3151.4 2096.4,3151.9 2125.0,3152.3 2153.6,3152.7 2182.2,3153.1 2210.9,3153.5 2239.5,3154.0 2268.1,3154.4 2296.7,3154.4" fill="none" stroke="#FF9900" stroke-width="5.5" stroke-linejoin="round" stroke-linecap="round"/>
<path d="M281.1 2208.5h25.0v25.0h-25.0ZM309.7 2216.3h25.0v25.0h-25.0ZM338.3 2225.8h25.0v25.0h-25.0ZM366.9 2237.2h25.0v25.0h-25.0ZM395.6 2250.7h25.0v25.0h-25.0ZM424.2 2266.1h25.0v25.0h-25.0ZM452.8 2283.5h25.0v25.0h-25.0ZM481.4 2302.6h25.0v25.0h-25.0ZM510.0 2323.2h25.0v25.0h-25.0ZM538.6 2344.9h25.0v25.0h-25.0ZM567.3 2367.6h25.0v25.0h-25.0ZM595.9 2390.9h25.0v25.0h-25.0ZM624.5 2414.8h25.0v25.0h-25.0ZM653.1 2439.1h25.0v25.0h-25.0ZM681.7 2463.6h25.0v25.0h-25.0ZM710.3 2488.3h25.0v25.0h-25.0ZM739.0 2513.2h25.0v25.0h-25.0ZM767.6 2538.1h25.0v25.0h-25.0ZM796.2 2563.1h25.0v25.0h-25.0ZM824.8 2588.0h25.0v25.0h-25.0ZM853.4 2613.0h25.0v25.0h-25.0ZM882.0 2638.0h25.0v25.0h-25.0ZM910.6 2662.8h25.0v25.0h-25.0ZM939.3 2687.7h25.0v25.0h-25.0ZM967.9 2712.4h25.0v25.0h-25.0ZM996.5 2737.0h25.0v25.0h-25.0ZM1025.1 2761.5h25.0v25.0h-25.0ZM1053.7 2785.8h25.0v25.0h-25.0ZM1082.3 2810.0h25.0v25.0h-25.0ZM1111.0 2833.9h25.0v25.0h-25.0ZM1139.6 2857.5h25.0v25.0h-25.0ZM1168.2 2880.8h25.0v25.0h-25.0ZM1196.8 2903.7h25.0v25.0h-25.0ZM1225.4 2926.1h25.0v25.0h-25.0ZM1254.0 2947.9h25.0v25.0h-25.0ZM1282.7 2968.9h25.0v25.0h-25.0ZM1311.3 2989.0h25.0v25.0h-25.0ZM1339.9 3008.0h25.0v25.0h-25.0ZM1368.5 3025.8h25.0v25.0h-25.0ZM1397.1 3042.1h25.0v25.0h-25.0ZM1425.7 3056.9h25.0v25.0h-25.0ZM1454.3 3070.1h25.0v25.0h-25.0ZM1483.0 3081.5h25.0v25.0h-25.0ZM1511.6 3091.4h25.0v25.0h-25.0ZM1540.2 3099.7h25.0v25.0h-25.0ZM1568.8 3106.7h25.0v25.0h-25.0ZM1597.4 3112.4h25.0v25.0h-25.0ZM1626.0 3117.1h25.0v25.0h-25.0ZM1654.7 3121.0h25.0v25.0h-25.0ZM1683.3 3124.1h25.0v25.0h-25.0ZM1711.9 3126.7h25.0v25.0h-25.0ZM1740.5 3128.9h25.0v25.0h-25.0ZM1769.1 3130.6h25.0v25.0h-25.0ZM1797.7 3132.1h25.0v25.0h-25.0ZM1826.3 3133.3h25.0v25.0h-25.0ZM1855.0 3134.4h25.0v25.0h-25.0ZM1883.6 3135.3h25.0v25.0h-25.0ZM1912.2 3136.1h25.0v25.0h-25.0ZM1940.8 3136.8h25.0v25.0h-25.0ZM1969.4 3137.4h25.0v25.0h-25.0ZM1998.0 3138.0h25.0v25.0h-25.0ZM2026.7 3138.5h25.0v25.0h-25.0ZM2055.3 3138.9h25.0v25.0h-25.0ZM2083.9 3139.4h25.0v25.0h-25.0ZM2112.5 3139.8h25.0v25.0h-25.0ZM2141.1 3140.2h25.0v25.0h-25.0ZM2169.7 3140.6h25.0v25.0h-25.0ZM2198.4 3141.0h25.0v25.0h-25.0ZM2227.0 3141.5h25.0v25.0h-25.0ZM2255.6 3141.9h25.0v25.0h-25.0Z" fill="#FF9900"/>
<polyline points="293.6,2193.0 322.2,2208.5 350.8,2226.0 379.4,2245.3 408.1,2266.3 436.7,2288.6 465.3,2311.8 493.9,2335.9 522.5,2360.4 551.1,2385.3 579.8,2410.3 608.4,2435.5 637.0,2460.8 665.6,2486.1 694.2,2511.4 722.8,2536.6 751.5,2561.8 780.1,2587.0 808.7,2612.0 837.3,2637.0 865.9,2661.9 894.5,2686.6 923.1,2711.3 951.8,2735.8 980.4,2760.2 1009.0,2784.5 1037.6,2808.6 1066.2,2832.4 1094.8,2856.1 1123.5,2879.5 1152.1,2902.5 1180.7,2925.2 1209.3,2947.5 1237.9,2969.1 1266.5,2990.2 1295.2,3010.4 1323.8,3029.7 1352.4,3047.9 1381.0,3064.9 1409.6,3080.4 1438.2,3094.4 1466.8,3106.8 1495.5,3117.5 1524.1,3126.7 1552.7,3134.5 1581.3,3140.9 1609.9,3146.2 1638.5,3150.5 1667.2,3154.0 1695.8,3156.8 1724.4,3159.1 1753.0,3160.9 1781.6,3162.5 1810.2,3163.7 1838.8,3164.8 1867.5,3165.7 1896.1,3166.6 1924.7,3167.3 1953.3,3168.0 1981.9,3168.7 2010.5,3169.4 2039.2,3170.1 2067.8,3170.8 2096.4,3171.6 2125.0,3172.4 2153.6,3173.3 2182.2,3174.3 2210.9,3175.3 2239.5,3176.5 2268.1,3177.7 2296.7,3177.8" fill="none" stroke="#FF9900" stroke-width="5.5" stroke-linejoin="round" stroke-linecap="round"/>
<path d="M293.6 2181.0L305.6 2193.0L293.6 2205.0L281.6 2193.0ZM322.2 2196.5L334.2 2208.5L322.2 2220.5L310.2 2208.5ZM350.8 2214.0L362.8 2226.0L350.8 2238.0L338.8 2226.0ZM379.4 2233.3L391.4 2245.3L379.4 2257.3L367.4 2245.3ZM408.1 2254.3L420.1 2266.3L408.1 2278.3L396.1 2266.3ZM436.7 2276.6L448.7 2288.6L436.7 2300.6L424.7 2288.6ZM465.3 2299.8L477.3 2311.8L465.3 2323.8L453.3 2311.8ZM493.9 2323.9L505.9 2335.9L493.9 2347.9L481.9 2335.9ZM522.5 2348.4L534.5 2360.4L522.5 2372.4L510.5 2360.4ZM551.1 2373.3L563.1 2385.3L551.1 2397.3L539.1 2385.3ZM579.8 2398.3L591.8 2410.3L579.8 2422.3L567.8 2410.3ZM608.4 2423.5L620.4 2435.5L608.4 2447.5L596.4 2435.5ZM637.0 2448.8L649.0 2460.8L637.0 2472.8L625.0 2460.8ZM665.6 2474.1L677.6 2486.1L665.6 2498.1L653.6 2486.1ZM694.2 2499.4L706.2 2511.4L694.2 2523.4L682.2 2511.4ZM722.8 2524.6L734.8 2536.6L722.8 2548.6L710.8 2536.6ZM751.5 2549.8L763.5 2561.8L751.5 2573.8L739.5 2561.8ZM780.1 2575.0L792.1 2587.0L780.1 2599.0L768.1 2587.0ZM808.7 2600.0L820.7 2612.0L808.7 2624.0L796.7 2612.0ZM837.3 2625.0L849.3 2637.0L837.3 2649.0L825.3 2637.0ZM865.9 2649.9L877.9 2661.9L865.9 2673.9L853.9 2661.9ZM894.5 2674.6L906.5 2686.6L894.5 2698.6L882.5 2686.6ZM923.1 2699.3L935.1 2711.3L923.1 2723.3L911.1 2711.3ZM951.8 2723.8L963.8 2735.8L951.8 2747.8L939.8 2735.8ZM980.4 2748.2L992.4 2760.2L980.4 2772.2L968.4 2760.2ZM1009.0 2772.5L1021.0 2784.5L1009.0 2796.5L997.0 2784.5ZM1037.6 2796.6L1049.6 2808.6L1037.6 2820.6L1025.6 2808.6ZM1066.2 2820.4L1078.2 2832.4L1066.2 2844.4L1054.2 2832.4ZM1094.8 2844.1L1106.8 2856.1L1094.8 2868.1L1082.8 2856.1ZM1123.5 2867.5L1135.5 2879.5L1123.5 2891.5L1111.5 2879.5ZM1152.1 2890.5L1164.1 2902.5L1152.1 2914.5L1140.1 2902.5ZM1180.7 2913.2L1192.7 2925.2L1180.7 2937.2L1168.7 2925.2ZM1209.3 2935.5L1221.3 2947.5L1209.3 2959.5L1197.3 2947.5ZM1237.9 2957.1L1249.9 2969.1L1237.9 2981.1L1225.9 2969.1ZM1266.5 2978.2L1278.5 2990.2L1266.5 3002.2L1254.5 2990.2ZM1295.2 2998.4L1307.2 3010.4L1295.2 3022.4L1283.2 3010.4ZM1323.8 3017.7L1335.8 3029.7L1323.8 3041.7L1311.8 3029.7ZM1352.4 3035.9L1364.4 3047.9L1352.4 3059.9L1340.4 3047.9ZM1381.0 3052.9L1393.0 3064.9L1381.0 3076.9L1369.0 3064.9ZM1409.6 3068.4L1421.6 3080.4L1409.6 3092.4L1397.6 3080.4ZM1438.2 3082.4L1450.2 3094.4L1438.2 3106.4L1426.2 3094.4ZM1466.8 3094.8L1478.8 3106.8L1466.8 3118.8L1454.8 3106.8ZM1495.5 3105.5L1507.5 3117.5L1495.5 3129.5L1483.5 3117.5ZM1524.1 3114.7L1536.1 3126.7L1524.1 3138.7L1512.1 3126.7ZM1552.7 3122.5L1564.7 3134.5L1552.7 3146.5L1540.7 3134.5ZM1581.3 3128.9L1593.3 3140.9L1581.3 3152.9L1569.3 3140.9ZM1609.9 3134.2L1621.9 3146.2L1609.9 3158.2L1597.9 3146.2ZM1638.5 3138.5L1650.5 3150.5L1638.5 3162.5L1626.5 3150.5ZM1667.2 3142.0L1679.2 3154.0L1667.2 3166.0L1655.2 3154.0ZM1695.8 3144.8L1707.8 3156.8L1695.8 3168.8L1683.8 3156.8ZM1724.4 3147.1L1736.4 3159.1L1724.4 3171.1L1712.4 3159.1ZM1753.0 3148.9L1765.0 3160.9L1753.0 3172.9L1741.0 3160.9ZM1781.6 3150.5L1793.6 3162.5L1781.6 3174.5L1769.6 3162.5ZM1810.2 3151.7L1822.2 3163.7L1810.2 3175.7L1798.2 3163.7ZM1838.8 3152.8L1850.8 3164.8L1838.8 3176.8L1826.8 3164.8ZM1867.5 3153.7L1879.5 3165.7L1867.5 3177.7L1855.5 3165.7ZM1896.1 3154.6L1908.1 3166.6L1896.1 3178.6L1884.1 3166.6ZM1924.7 3155.3L1936.7 3167.3L1924.7 3179.3L1912.7 3167.3ZM1953.3 3156.0L1965.3 3168.0L1953.3 3180.0L1941.3 3168.0ZM1981.9 3156.7L1993.9 3168.7L1981.9 3180.7L1969.9 3168.7ZM2010.5 3157.4L2022.5 3169.4L2010.5 3181.4L1998.5 3169.4ZM2039.2 3158.1L2051.2 3170.1L2039.2 3182.1L2027.2 3170.1ZM2067.8 3158.8L2079.8 3170.8L2067.8 3182.8L2055.8 3170.8ZM2096.4 3159.6L2108.4 3171.6L2096.4 3183.6L2084.4 3171.6ZM2125.0 3160.4L2137.0 3172.4L2125.0 3184.4L2113.0 3172.4ZM2153.6 3161.3L2165.6 3173.3L2153.6 3185.3L2141.6 3173.3ZM2182.2 3162.3L2194.2 3174.3L2182.2 3186.3L2170.2 3174.3ZM2210.9 3163.3L2222.9 3175.3L2210.9 3187.3L2198.9 3175.3ZM2239.5 3164.5L2251.5 3176.5L2239.5 3188.5L2227.5 3176.5ZM2268.1 3165.7L2280.1 3177.7L2268.1 3189.7L2256.1 3177.7Z" fill="#FF9900"/>
<polyline points="293.6,2251.6 322.2,2269.9 350.8,2288.6 379.4,2307.9 408.1,2327.6 436.7,2347.7 465.3,2368.1 493.9,2388.9 522.5,2410.0 551.1,2431.4 579.8,2453.0 608.4,2474.9 637.0,2496.9 665.6,2519.2 694.2,2541.6 722.8,2564.1 751.5,2586.7 780.1,2609.5 808.7,2632.3 837.3,2655.2 865.9,2678.1 894.5,2701.0 923.1,2724.0 951.8,2746.9 980.4,2769.8 1009.0,2792.6 1037.6,2815.4 1066.2,2838.0 1094.8,2860.5 1123.5,2882.8 1152.1,2904.9 1180.7,2926.7 1209.3,2948.1 1237.9,2969.1 1266.5,2989.5 1295.2,3009.2 1323.8,3028.0 1352.4,3045.9 1381.0,3062.7 1409.6,3078.1 1438.2,3092.2 1466.8,3104.7 1495.5,3115.6 1524.1,3125.0 1552.7,3133.0 1581.3,3139.6 1609.9,3145.0 1638.5,3149.4 1667.2,3153.0 1695.8,3155.8 1724.4,3158.1 1753.0,3160.0 1781.6,3161.5 1810.2,3162.8 1838.8,3163.8 1867.5,3164.7 1896.1,3165.5 1924.7,3166.2 1953.3,3166.8 1981.9,3167.5 2010.5,3168.1 2039.2,3168.7 2067.8,3169.3 2096.4,3170.0 2125.0,3170.7 2153.6,3171.4 2182.2,3172.1 2210.9,3173.0 2239.5,3173.8 2268.1,3174.8 2296.7,3174.8" fill="none" stroke="#FF9900" stroke-width="5.5" stroke-linejoin="round" stroke-linecap="round"/>
<path d="M293.6 2239.6L305.6 2263.6L281.6 2263.6ZM322.2 2257.9L334.2 2281.9L310.2 2281.9ZM350.8 2276.6L362.8 2300.6L338.8 2300.6ZM379.4 2295.9L391.4 2319.9L367.4 2319.9ZM408.1 2315.6L420.1 2339.6L396.1 2339.6ZM436.7 2335.7L448.7 2359.7L424.7 2359.7ZM465.3 2356.1L477.3 2380.1L453.3 2380.1ZM493.9 2376.9L505.9 2400.9L481.9 2400.9ZM522.5 2398.0L534.5 2422.0L510.5 2422.0ZM551.1 2419.4L563.1 2443.4L539.1 2443.4ZM579.8 2441.0L591.8 2465.0L567.8 2465.0ZM608.4 2462.9L620.4 2486.9L596.4 2486.9ZM637.0 2484.9L649.0 2508.9L625.0 2508.9ZM665.6 2507.2L677.6 2531.2L653.6 2531.2ZM694.2 2529.6L706.2 2553.6L682.2 2553.6ZM722.8 2552.1L734.8 2576.1L710.8 2576.1ZM751.5 2574.7L763.5 2598.7L739.5 2598.7ZM780.1 2597.5L792.1 2621.5L768.1 2621.5ZM808.7 2620.3L820.7 2644.3L796.7 2644.3ZM837.3 2643.2L849.3 2667.2L825.3 2667.2ZM865.9 2666.1L877.9 2690.1L853.9 2690.1ZM894.5 2689.0L906.5 2713.0L882.5 2713.0ZM923.1 2712.0L935.1 2736.0L911.1 2736.0ZM951.8 2734.9L963.8 2758.9L939.8 2758.9ZM980.4 2757.8L992.4 2781.8L968.4 2781.8ZM1009.0 2780.6L1021.0 2804.6L997.0 2804.6ZM1037.6 2803.4L1049.6 2827.4L1025.6 2827.4ZM1066.2 2826.0L1078.2 2850.0L1054.2 2850.0ZM1094.8 2848.5L1106.8 2872.5L1082.8 2872.5ZM1123.5 2870.8L1135.5 2894.8L1111.5 2894.8ZM1152.1 2892.9L1164.1 2916.9L1140.1 2916.9ZM1180.7 2914.7L1192.7 2938.7L1168.7 2938.7ZM1209.3 2936.1L1221.3 2960.1L1197.3 2960.1ZM1237.9 2957.1L1249.9 2981.1L1225.9 2981.1ZM1266.5 2977.5L1278.5 3001.5L1254.5 3001.5ZM1295.2 2997.2L1307.2 3021.2L1283.2 3021.2ZM1323.8 3016.0L1335.8 3040.0L1311.8 3040.0ZM1352.4 3033.9L1364.4 3057.9L1340.4 3057.9ZM1381.0 3050.7L1393.0 3074.7L1369.0 3074.7ZM1409.6 3066.1L1421.6 3090.1L1397.6 3090.1ZM1438.2 3080.2L1450.2 3104.2L1426.2 3104.2ZM1466.8 3092.7L1478.8 3116.7L1454.8 3116.7ZM1495.5 3103.6L1507.5 3127.6L1483.5 3127.6ZM1524.1 3113.0L1536.1 3137.0L1512.1 3137.0ZM1552.7 3121.0L1564.7 3145.0L1540.7 3145.0ZM1581.3 3127.6L1593.3 3151.6L1569.3 3151.6ZM1609.9 3133.0L1621.9 3157.0L1597.9 3157.0ZM1638.5 3137.4L1650.5 3161.4L1626.5 3161.4ZM1667.2 3141.0L1679.2 3165.0L1655.2 3165.0ZM1695.8 3143.8L1707.8 3167.8L1683.8 3167.8ZM1724.4 3146.1L1736.4 3170.1L1712.4 3170.1ZM1753.0 3148.0L1765.0 3172.0L1741.0 3172.0ZM1781.6 3149.5L1793.6 3173.5L1769.6 3173.5ZM1810.2 3150.8L1822.2 3174.8L1798.2 3174.8ZM1838.8 3151.8L1850.8 3175.8L1826.8 3175.8ZM1867.5 3152.7L1879.5 3176.7L1855.5 3176.7ZM1896.1 3153.5L1908.1 3177.5L1884.1 3177.5ZM1924.7 3154.2L1936.7 3178.2L1912.7 3178.2ZM1953.3 3154.8L1965.3 3178.8L1941.3 3178.8ZM1981.9 3155.5L1993.9 3179.5L1969.9 3179.5ZM2010.5 3156.1L2022.5 3180.1L1998.5 3180.1ZM2039.2 3156.7L2051.2 3180.7L2027.2 3180.7ZM2067.8 3157.3L2079.8 3181.3L2055.8 3181.3ZM2096.4 3158.0L2108.4 3182.0L2084.4 3182.0ZM2125.0 3158.7L2137.0 3182.7L2113.0 3182.7ZM2153.6 3159.4L2165.6 3183.4L2141.6 3183.4ZM2182.2 3160.1L2194.2 3184.1L2170.2 3184.1ZM2210.9 3161.0L2222.9 3185.0L2198.9 3185.0ZM2239.5 3161.8L2251.5 3185.8L2227.5 3185.8ZM2268.1 3162.8L2280.1 3186.8L2256.1 3186.8Z" fill="#FF9900"/>
<rect x="1807.0" y="46.0" width="497.0" height="673.0" fill="#fff" filter="url(#sh)"/>
<line x1="1853.0" y1="88.5" x2="1926.7" y2="88.5" stroke="#000" stroke-width="6.4"/>
<text x="1930.0" y="106.5" font-size="56" text-anchor="start" font-weight="normal">316L</text>
<line x1="1853.0" y1="172.7" x2="1926.7" y2="172.7" stroke="#0000CD" stroke-width="6"/>
<text x="1930.0" y="190.7" font-size="56" text-anchor="start" font-weight="normal">Fe40Al</text>
<line x1="1853.0" y1="256.9" x2="1926.7" y2="256.9" stroke="#808080" stroke-width="5.6"/>
<path d="M1876.9 244.1h25.8v25.5h-25.8Z" fill="none" stroke="#808080" stroke-width="3.8"/>
<text x="1930.0" y="274.9" font-size="56" text-anchor="start" font-weight="normal">Fe40Al-0.5Ag</text>
<line x1="1853.0" y1="341.1" x2="1926.7" y2="341.1" stroke="#808080" stroke-width="5.6"/>
<path d="M1889.8 328.1L1900.3 341.1L1889.8 354.2L1879.3 341.1Z" fill="none" stroke="#808080" stroke-width="3.5"/>
<text x="1930.0" y="359.1" font-size="56" text-anchor="start" font-weight="normal">Fe40Al-1.0Ag</text>
<line x1="1853.0" y1="425.3" x2="1926.7" y2="425.3" stroke="#808080" stroke-width="5.6"/>
<path d="M1889.8 414.1L1902.1 436.6L1877.6 436.6Z" fill="none" stroke="#808080" stroke-width="3.5"/>
<text x="1930.0" y="443.3" font-size="56" text-anchor="start" font-weight="normal">Fe40Al-3.0Ag</text>
<line x1="1853.0" y1="509.5" x2="1926.7" y2="509.5" stroke="#FF9900" stroke-width="5.6"/>
<path d="M1877.0 496.7h25.6v25.6h-25.6Z" fill="#FF9900"/>
<text x="1930.0" y="527.5" font-size="56" text-anchor="start" font-weight="normal">Fe40Al-1.0Cu</text>
<line x1="1853.0" y1="593.7" x2="1926.7" y2="593.7" stroke="#FF9900" stroke-width="5.6"/>
<path d="M1889.8 581.7L1900.3 593.7L1889.8 605.7L1879.3 593.7Z" fill="#FF9900"/>
<text x="1930.0" y="611.7" font-size="56" text-anchor="start" font-weight="normal">Fe40Al-3.0Cu</text>
<line x1="1853.0" y1="677.9" x2="1926.7" y2="677.9" stroke="#FF9900" stroke-width="5.6"/>
<path d="M1889.8 665.9L1901.8 689.9L1877.8 689.9Z" fill="#FF9900"/>
<text x="1930.0" y="695.9" font-size="56" text-anchor="start" font-weight="normal">Fe40Al-5.0Cu</text>
<rect x="1853.0" y="1878.0" width="434.0" height="708.4" fill="#fff" filter="url(#sh)"/>
<line x1="1868.0" y1="1923.0" x2="1941.0" y2="1923.0" stroke="#000" stroke-width="6.4"/>
<text x="1947.6" y="1941.0" font-size="56" text-anchor="start" font-weight="normal">316L</text>
<line x1="1868.0" y1="2011.5" x2="1941.0" y2="2011.5" stroke="#0000CD" stroke-width="6"/>
<text x="1947.6" y="2029.5" font-size="56" text-anchor="start" font-weight="normal">Fe40Al</text>
<line x1="1868.0" y1="2100.0" x2="1941.0" y2="2100.0" stroke="#808080" stroke-width="5.6"/>
<path d="M1892.3 2088.3h24.3v23.3h-24.3Z" fill="none" stroke="#808080" stroke-width="3.2"/>
<text x="1947.6" y="2118.0" font-size="56" text-anchor="start" font-weight="normal">Fe40Al-0.5Ag</text>
<line x1="1868.0" y1="2188.5" x2="1941.0" y2="2188.5" stroke="#808080" stroke-width="5.6"/>
<path d="M1904.5 2177.5L1913.0 2188.5L1904.5 2199.5L1896.0 2188.5Z" fill="none" stroke="#808080" stroke-width="3.0"/>
<text x="1947.6" y="2206.5" font-size="56" text-anchor="start" font-weight="normal">Fe40Al-1.0Ag</text>
<line x1="1868.0" y1="2277.0" x2="1941.0" y2="2277.0" stroke="#808080" stroke-width="5.6"/>
<path d="M1904.5 2270.0L1913.0 2284.0L1896.0 2284.0Z" fill="none" stroke="#808080" stroke-width="3.0"/>
<text x="1947.6" y="2295.0" font-size="56" text-anchor="start" font-weight="normal">Fe40Al-3.0Ag</text>
<line x1="1868.0" y1="2365.5" x2="1941.0" y2="2365.5" stroke="#FF9900" stroke-width="5.6"/>
<path d="M1892.2 2353.2h24.7v24.5h-24.7Z" fill="#FF9900"/>
<text x="1947.6" y="2383.5" font-size="56" text-anchor="start" font-weight="normal">Fe40Al-1.0Cu</text>
<line x1="1868.0" y1="2454.0" x2="1941.0" y2="2454.0" stroke="#FF9900" stroke-width="5.6"/>
<path d="M1904.5 2442.5L1915.0 2454.0L1904.5 2465.5L1894.0 2454.0Z" fill="#FF9900"/>
<text x="1947.6" y="2472.0" font-size="56" text-anchor="start" font-weight="normal">Fe40Al-3.0Cu</text>
<line x1="1868.0" y1="2542.5" x2="1941.0" y2="2542.5" stroke="#FF9900" stroke-width="5.6"/>
<path d="M1904.5 2531.5L1916.0 2553.5L1893.0 2553.5Z" fill="#FF9900"/>
<text x="1947.6" y="2560.5" font-size="56" text-anchor="start" font-weight="normal">Fe40Al-5.0Cu</text>
</svg></body></html>
